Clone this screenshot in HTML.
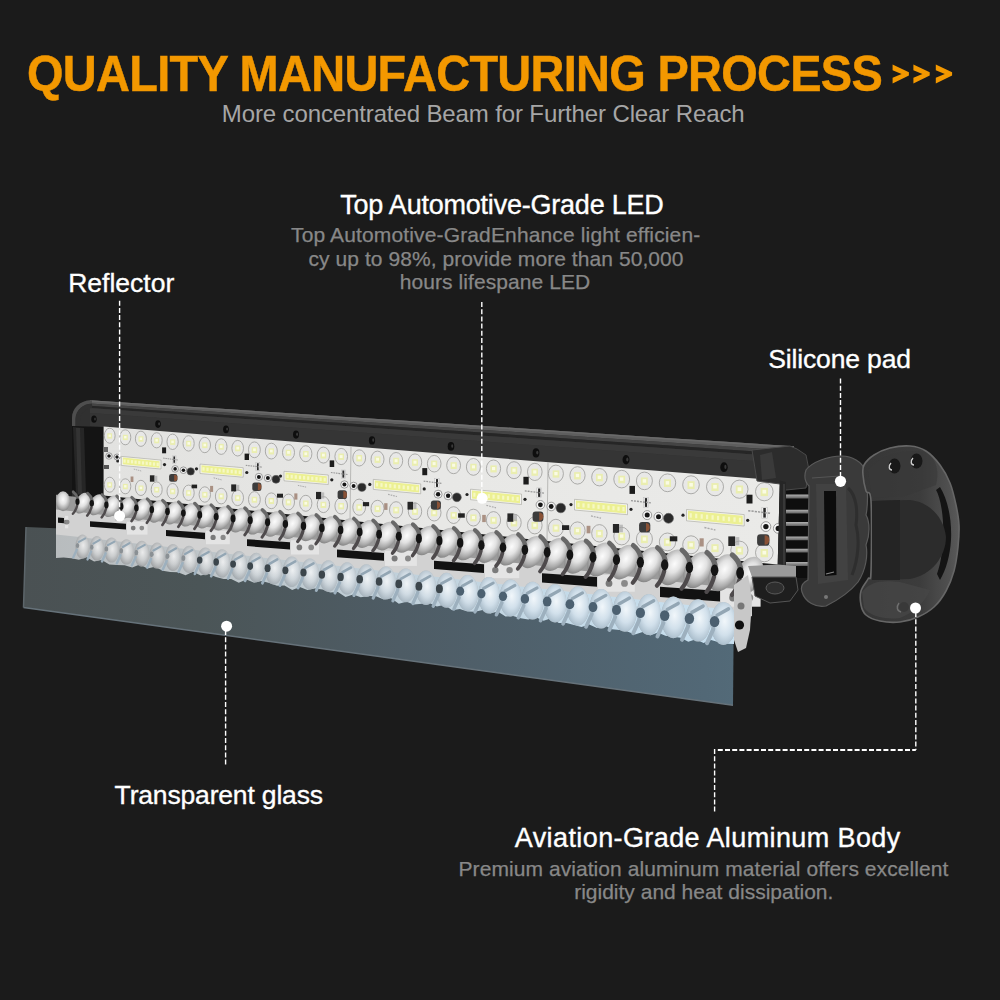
<!DOCTYPE html>
<html><head><meta charset="utf-8">
<style>
html,body{margin:0;padding:0;background:#1b1b1b;}
body{width:1000px;height:1000px;overflow:hidden;}
svg{display:block;}
text{font-family:"Liberation Sans",sans-serif;}
#texts text[fill="#ffffff"]{stroke:#ffffff;stroke-width:0.35px;}
#texts text[fill="#888"]{stroke:#888;stroke-width:0.25px;}
#t_title{stroke:#f39800;stroke-width:0.5px;}
</style></head>
<body>
<svg width="1000" height="1000" viewBox="0 0 1000 1000">
<rect width="1000" height="1000" fill="#1b1b1b"/>
<g id="product">
<defs>
<linearGradient id="gGlass" x1="0" y1="0" x2="1" y2="0">
 <stop offset="0" stop-color="#4a5153"/><stop offset="0.25" stop-color="#4b5557"/><stop offset="0.53" stop-color="#4e5c65"/><stop offset="0.96" stop-color="#526876"/><stop offset="1" stop-color="#536a78"/>
</linearGradient>
<linearGradient id="gHouse" x1="0" y1="0" x2="0" y2="1">
 <stop offset="0" stop-color="#5a5a5a"/><stop offset="0.12" stop-color="#4a4a4a"/><stop offset="0.2" stop-color="#2c2c2c"/>
 <stop offset="0.3" stop-color="#3c3c3c"/><stop offset="0.38" stop-color="#2a2a2a"/><stop offset="1" stop-color="#242424"/>
</linearGradient>
<linearGradient id="gPCB" x1="0" y1="0" x2="1" y2="0">
 <stop offset="0" stop-color="#e2e2e0"/><stop offset="0.5" stop-color="#e8e8e6"/><stop offset="1" stop-color="#eaeae8"/>
</linearGradient>
<linearGradient id="gBlue" x1="0" y1="0" x2="1" y2="0">
 <stop offset="0" stop-color="#b8bcbe"/><stop offset="0.25" stop-color="#bec6ca"/><stop offset="0.5" stop-color="#c0d0da"/><stop offset="0.75" stop-color="#c4dae8"/><stop offset="1" stop-color="#c8e0f0"/>
</linearGradient>
<radialGradient id="gLens" cx="0.5" cy="0.4" r="0.62">
 <stop offset="0" stop-color="#fcfcfc"/><stop offset="0.4" stop-color="#e2e2e2"/><stop offset="0.75" stop-color="#acacac"/><stop offset="1" stop-color="#7e7e7e"/>
</radialGradient>
<radialGradient id="gLensG" cx="0.55" cy="0.45" r="0.6">
 <stop offset="0" stop-color="#f0f0f0"/><stop offset="0.5" stop-color="#cdcfd0"/><stop offset="1" stop-color="#97999b"/>
</radialGradient>
<radialGradient id="gLensB" cx="0.55" cy="0.45" r="0.6">
 <stop offset="0" stop-color="#f2f8fc"/><stop offset="0.55" stop-color="#d2e2ee"/><stop offset="1" stop-color="#a6bccc"/>
</radialGradient>
<linearGradient id="gCapH" x1="0" y1="0" x2="1" y2="0">
 <stop offset="0" stop-color="#363636"/><stop offset="0.6" stop-color="#3c3c3c"/><stop offset="0.9" stop-color="#505050"/><stop offset="1" stop-color="#5a5a5a"/>
</linearGradient>
<linearGradient id="gCap" x1="0" y1="0" x2="1" y2="1">
 <stop offset="0" stop-color="#4a4a4a"/><stop offset="1" stop-color="#3a3a3a"/>
</linearGradient>
<linearGradient id="gFin" x1="0" y1="0" x2="0" y2="1">
 <stop offset="0" stop-color="#b0b0b0"/><stop offset="1" stop-color="#606060"/>
</linearGradient>
</defs>
<polygon points="26.0,527.0 120.0,531.0 734.0,590.0 733.0,705.2 23.5,607.5" fill="url(#gGlass)"/>
<polyline points="23.5,607.5 733.0,705.2" stroke="#66727a" stroke-width="1.6" fill="none"/>
<polyline points="26.0,527.0 23.5,607.5" stroke="#5c656a" stroke-width="1.5" fill="none"/>
<path d="M72,497 L72,418 C72,408 80,401 90,400.2 L100,400.9 L103.6,430 L103.6,497 Z" fill="#303030"/>
<polygon points="90.0,400.2 154.0,404.4 218.0,408.6 282.0,412.8 346.0,417.0 410.0,421.1 474.0,425.3 538.0,429.5 602.0,433.7 666.0,437.9 730.0,442.1 794.0,446.3 794.0,482.5 730.0,477.3 666.0,472.2 602.0,467.1 538.0,461.9 474.0,456.8 410.0,451.7 346.0,446.5 282.0,441.4 218.0,436.3 154.0,431.2 90.0,426.0" fill="#333333" />
<polygon points="90.0,400.2 154.0,404.4 218.0,408.6 282.0,412.8 346.0,417.0 410.0,421.1 474.0,425.3 538.0,429.5 602.0,433.7 666.0,437.9 730.0,442.1 794.0,446.3 794.0,450.9 730.0,446.6 666.0,442.3 602.0,438.0 538.0,433.6 474.0,429.3 410.0,425.0 346.0,420.7 282.0,416.4 218.0,412.1 154.0,407.8 90.0,403.5" fill="#5e5e5e" />
<polygon points="90.0,400.2 154.0,404.4 218.0,408.6 282.0,412.8 346.0,417.0 410.0,421.1 474.0,425.3 538.0,429.5 602.0,433.7 666.0,437.9 730.0,442.1 794.0,446.3 794.0,448.0 730.0,443.8 666.0,439.6 602.0,435.3 538.0,431.1 474.0,426.9 410.0,422.6 346.0,418.4 282.0,414.2 218.0,409.9 154.0,405.7 90.0,401.5" fill="#6a6a6a" />
<polygon points="90.0,403.5 154.0,407.8 218.0,412.1 282.0,416.4 346.0,420.7 410.0,425.0 474.0,429.3 538.0,433.6 602.0,438.0 666.0,442.3 730.0,446.6 794.0,450.9 794.0,454.1 730.0,449.7 666.0,445.3 602.0,440.9 538.0,436.5 474.0,432.1 410.0,427.7 346.0,423.3 282.0,418.9 218.0,414.6 154.0,410.2 90.0,405.8" fill="#444444" />
<polygon points="90.0,405.8 154.0,410.2 218.0,414.6 282.0,418.9 346.0,423.3 410.0,427.7 474.0,432.1 538.0,436.5 602.0,440.9 666.0,445.3 730.0,449.7 794.0,454.1 794.0,457.3 730.0,452.8 666.0,448.3 602.0,443.8 538.0,439.4 474.0,434.9 410.0,430.4 346.0,425.9 282.0,421.5 218.0,417.0 154.0,412.5 90.0,408.1" fill="#262626" />
<polygon points="90.0,408.1 154.0,412.5 218.0,417.0 282.0,421.5 346.0,425.9 410.0,430.4 474.0,434.9 538.0,439.4 602.0,443.8 666.0,448.3 730.0,452.8 794.0,457.3 794.0,464.0 730.0,459.4 666.0,454.7 602.0,450.1 538.0,445.4 474.0,440.8 410.0,436.1 346.0,431.5 282.0,426.8 218.0,422.2 154.0,417.5 90.0,412.9" fill="#3a3a3a" />
<polygon points="90.0,412.9 154.0,417.5 218.0,422.2 282.0,426.8 346.0,431.5 410.0,436.1 474.0,440.8 538.0,445.4 602.0,450.1 666.0,454.7 730.0,459.4 794.0,464.0 794.0,482.5 730.0,477.3 666.0,472.2 602.0,467.1 538.0,461.9 474.0,456.8 410.0,451.7 346.0,446.5 282.0,441.4 218.0,436.3 154.0,431.2 90.0,426.0" fill="#353535" />
<path d="M72,430 L72,418 C72,408 80,401 90,400.2 L92,400.3 L92,403.5 C83,404 76,410 75.5,419 L75.5,430 Z" fill="#4e4e4e"/>
<path d="M75.5,430 L75.5,419 C76,410 83,404 92,403.5 L92,408 C85,408.5 80,413 80,421 L80,430 Z" fill="#303030"/>
<polygon points="72.0,426.0 103.6,427.0 103.6,497.0 76.0,497.0 72.0,490.0" fill="#141414"/>
<polygon points="73.0,427.0 84.0,428.0 86.0,495.0 76.0,495.0" fill="#262626"/>
<polygon points="76.0,428.0 80.0,428.0 82.0,494.0 78.0,494.0" fill="#333"/>
<ellipse cx="94.0" cy="419.2" rx="2.7" ry="3.6" fill="#0e0e0e"/>
<ellipse cx="95.0" cy="418.9" rx="0.8" ry="1.5" fill="#3a3a3a"/>
<ellipse cx="158.0" cy="424.1" rx="2.8" ry="3.8" fill="#0e0e0e"/>
<ellipse cx="159.1" cy="423.8" rx="0.9" ry="1.6" fill="#3a3a3a"/>
<ellipse cx="226.0" cy="429.3" rx="2.9" ry="3.9" fill="#0e0e0e"/>
<ellipse cx="227.1" cy="429.0" rx="0.9" ry="1.6" fill="#3a3a3a"/>
<ellipse cx="296.0" cy="434.6" rx="3.0" ry="4.1" fill="#0e0e0e"/>
<ellipse cx="297.1" cy="434.3" rx="0.9" ry="1.7" fill="#3a3a3a"/>
<ellipse cx="372.0" cy="440.4" rx="3.1" ry="4.2" fill="#0e0e0e"/>
<ellipse cx="373.2" cy="440.1" rx="1.0" ry="1.8" fill="#3a3a3a"/>
<ellipse cx="451.0" cy="446.4" rx="3.3" ry="4.4" fill="#0e0e0e"/>
<ellipse cx="452.2" cy="446.1" rx="1.0" ry="1.8" fill="#3a3a3a"/>
<ellipse cx="536.0" cy="452.9" rx="3.4" ry="4.6" fill="#0e0e0e"/>
<ellipse cx="537.3" cy="452.6" rx="1.1" ry="1.9" fill="#3a3a3a"/>
<ellipse cx="626.0" cy="459.7" rx="3.5" ry="4.7" fill="#0e0e0e"/>
<ellipse cx="627.3" cy="459.4" rx="1.1" ry="2.0" fill="#3a3a3a"/>
<ellipse cx="724.0" cy="467.2" rx="3.7" ry="4.9" fill="#0e0e0e"/>
<ellipse cx="725.4" cy="466.9" rx="1.1" ry="2.1" fill="#3a3a3a"/>
<polygon points="103.6,426.6 779.8,480.6 777.7,564.6 103.6,495.4" fill="url(#gPCB)"/>
<line x1="351.0" y1="446.4" x2="350.0" y2="520.8" stroke="#b8b8b6" stroke-width="1"/>
<line x1="548.0" y1="462.1" x2="547.0" y2="541.0" stroke="#b8b8b6" stroke-width="1"/>
<ellipse cx="109.7" cy="435.7" rx="5.4" ry="7.5" fill="#e8e8e7" stroke="#9a9a98" stroke-width="0.8"/>
<rect x="107.3" y="433.3" width="4.8" height="5.3" fill="#eaeeb0"/>
<rect x="108.5" y="434.5" width="2.4" height="2.4" fill="#fafbe4"/>
<ellipse cx="109.7" cy="484.7" rx="5.4" ry="7.5" fill="#e8e8e7" stroke="#9a9a98" stroke-width="0.8"/>
<rect x="107.3" y="482.3" width="4.8" height="5.3" fill="#eaeeb0"/>
<rect x="108.5" y="483.5" width="2.4" height="2.4" fill="#fafbe4"/>
<ellipse cx="125.3" cy="437.3" rx="5.5" ry="7.5" fill="#e8e8e7" stroke="#9a9a98" stroke-width="0.8"/>
<rect x="122.9" y="434.8" width="4.9" height="5.3" fill="#eaeeb0"/>
<rect x="124.1" y="436.0" width="2.4" height="2.4" fill="#fafbe4"/>
<ellipse cx="125.3" cy="486.3" rx="5.5" ry="7.5" fill="#e8e8e7" stroke="#9a9a98" stroke-width="0.8"/>
<rect x="122.9" y="483.9" width="4.9" height="5.3" fill="#eaeeb0"/>
<rect x="124.1" y="485.1" width="2.4" height="2.4" fill="#fafbe4"/>
<ellipse cx="140.9" cy="438.8" rx="5.5" ry="7.6" fill="#e8e8e7" stroke="#9a9a98" stroke-width="0.8"/>
<rect x="138.5" y="436.3" width="4.9" height="5.4" fill="#eaeeb0"/>
<rect x="139.7" y="437.5" width="2.5" height="2.5" fill="#fafbe4"/>
<ellipse cx="140.9" cy="487.9" rx="5.5" ry="7.6" fill="#e8e8e7" stroke="#9a9a98" stroke-width="0.8"/>
<rect x="138.5" y="485.5" width="4.9" height="5.4" fill="#eaeeb0"/>
<rect x="139.7" y="486.7" width="2.5" height="2.5" fill="#fafbe4"/>
<ellipse cx="156.7" cy="440.3" rx="5.5" ry="7.6" fill="#e8e8e7" stroke="#9a9a98" stroke-width="0.8"/>
<rect x="154.2" y="437.8" width="5.0" height="5.5" fill="#eaeeb0"/>
<rect x="155.4" y="439.1" width="2.5" height="2.5" fill="#fafbe4"/>
<ellipse cx="156.7" cy="489.5" rx="5.5" ry="7.6" fill="#e8e8e7" stroke="#9a9a98" stroke-width="0.8"/>
<rect x="154.2" y="487.0" width="5.0" height="5.5" fill="#eaeeb0"/>
<rect x="155.4" y="488.3" width="2.5" height="2.5" fill="#fafbe4"/>
<ellipse cx="172.6" cy="441.8" rx="5.6" ry="7.7" fill="#e8e8e7" stroke="#9a9a98" stroke-width="0.8"/>
<rect x="170.1" y="439.3" width="5.1" height="5.6" fill="#eaeeb0"/>
<rect x="171.3" y="440.6" width="2.5" height="2.5" fill="#fafbe4"/>
<ellipse cx="172.6" cy="491.2" rx="5.6" ry="7.7" fill="#e8e8e7" stroke="#9a9a98" stroke-width="0.8"/>
<rect x="170.1" y="488.6" width="5.1" height="5.6" fill="#eaeeb0"/>
<rect x="171.3" y="489.9" width="2.5" height="2.5" fill="#fafbe4"/>
<ellipse cx="188.6" cy="443.4" rx="5.6" ry="7.7" fill="#e8e8e7" stroke="#9a9a98" stroke-width="0.8"/>
<rect x="186.1" y="440.8" width="5.1" height="5.6" fill="#eaeeb0"/>
<rect x="187.4" y="442.1" width="2.6" height="2.6" fill="#fafbe4"/>
<ellipse cx="188.6" cy="492.8" rx="5.6" ry="7.7" fill="#e8e8e7" stroke="#9a9a98" stroke-width="0.8"/>
<rect x="186.1" y="490.2" width="5.1" height="5.6" fill="#eaeeb0"/>
<rect x="187.4" y="491.5" width="2.6" height="2.6" fill="#fafbe4"/>
<ellipse cx="204.8" cy="445.0" rx="5.7" ry="7.7" fill="#e8e8e7" stroke="#9a9a98" stroke-width="0.8"/>
<rect x="202.2" y="442.4" width="5.2" height="5.7" fill="#eaeeb0"/>
<rect x="203.5" y="443.7" width="2.6" height="2.6" fill="#fafbe4"/>
<ellipse cx="204.8" cy="494.5" rx="5.7" ry="7.7" fill="#e8e8e7" stroke="#9a9a98" stroke-width="0.8"/>
<rect x="202.2" y="491.9" width="5.2" height="5.7" fill="#eaeeb0"/>
<rect x="203.5" y="493.2" width="2.6" height="2.6" fill="#fafbe4"/>
<ellipse cx="221.2" cy="446.6" rx="5.8" ry="7.8" fill="#e8e8e7" stroke="#9a9a98" stroke-width="0.8"/>
<rect x="218.6" y="443.9" width="5.2" height="5.8" fill="#eaeeb0"/>
<rect x="219.9" y="445.3" width="2.6" height="2.6" fill="#fafbe4"/>
<ellipse cx="221.2" cy="496.1" rx="5.8" ry="7.8" fill="#e8e8e7" stroke="#9a9a98" stroke-width="0.8"/>
<rect x="218.6" y="493.5" width="5.2" height="5.8" fill="#eaeeb0"/>
<rect x="219.9" y="494.8" width="2.6" height="2.6" fill="#fafbe4"/>
<ellipse cx="237.7" cy="448.2" rx="5.8" ry="7.8" fill="#e8e8e7" stroke="#9a9a98" stroke-width="0.8"/>
<rect x="235.1" y="445.5" width="5.3" height="5.8" fill="#eaeeb0"/>
<rect x="236.4" y="446.8" width="2.7" height="2.7" fill="#fafbe4"/>
<ellipse cx="237.7" cy="497.8" rx="5.8" ry="7.8" fill="#e8e8e7" stroke="#9a9a98" stroke-width="0.8"/>
<rect x="235.1" y="495.2" width="5.3" height="5.8" fill="#eaeeb0"/>
<rect x="236.4" y="496.5" width="2.7" height="2.7" fill="#fafbe4"/>
<ellipse cx="254.4" cy="449.8" rx="5.9" ry="7.9" fill="#e8e8e7" stroke="#9a9a98" stroke-width="0.8"/>
<rect x="251.7" y="447.1" width="5.4" height="5.9" fill="#eaeeb0"/>
<rect x="253.1" y="448.4" width="2.7" height="2.7" fill="#fafbe4"/>
<ellipse cx="254.4" cy="499.5" rx="5.9" ry="7.9" fill="#e8e8e7" stroke="#9a9a98" stroke-width="0.8"/>
<rect x="251.7" y="496.8" width="5.4" height="5.9" fill="#eaeeb0"/>
<rect x="253.1" y="498.2" width="2.7" height="2.7" fill="#fafbe4"/>
<ellipse cx="271.3" cy="451.1" rx="6.0" ry="7.9" fill="#e8e8e7" stroke="#9a9a98" stroke-width="0.8"/>
<rect x="268.6" y="448.4" width="5.4" height="6.0" fill="#eaeeb0"/>
<rect x="270.0" y="449.7" width="2.7" height="2.7" fill="#fafbe4"/>
<ellipse cx="271.3" cy="500.8" rx="6.0" ry="7.9" fill="#e8e8e7" stroke="#9a9a98" stroke-width="0.8"/>
<rect x="268.6" y="498.0" width="5.4" height="6.0" fill="#eaeeb0"/>
<rect x="270.0" y="499.4" width="2.7" height="2.7" fill="#fafbe4"/>
<ellipse cx="288.5" cy="452.4" rx="6.0" ry="7.9" fill="#e8e8e7" stroke="#9a9a98" stroke-width="0.8"/>
<rect x="285.7" y="449.7" width="5.5" height="6.1" fill="#eaeeb0"/>
<rect x="287.1" y="451.0" width="2.8" height="2.8" fill="#fafbe4"/>
<ellipse cx="288.5" cy="502.0" rx="6.0" ry="7.9" fill="#e8e8e7" stroke="#9a9a98" stroke-width="0.8"/>
<rect x="285.7" y="499.3" width="5.5" height="6.1" fill="#eaeeb0"/>
<rect x="287.1" y="500.6" width="2.8" height="2.8" fill="#fafbe4"/>
<ellipse cx="305.8" cy="453.7" rx="6.1" ry="8.0" fill="#e8e8e7" stroke="#9a9a98" stroke-width="0.8"/>
<rect x="303.0" y="451.0" width="5.6" height="6.1" fill="#eaeeb0"/>
<rect x="304.4" y="452.4" width="2.8" height="2.8" fill="#fafbe4"/>
<ellipse cx="305.8" cy="503.3" rx="6.1" ry="8.0" fill="#e8e8e7" stroke="#9a9a98" stroke-width="0.8"/>
<rect x="303.0" y="500.5" width="5.6" height="6.1" fill="#eaeeb0"/>
<rect x="304.4" y="501.9" width="2.8" height="2.8" fill="#fafbe4"/>
<ellipse cx="323.4" cy="455.1" rx="6.2" ry="8.0" fill="#e8e8e7" stroke="#9a9a98" stroke-width="0.8"/>
<rect x="320.5" y="452.3" width="5.7" height="6.2" fill="#eaeeb0"/>
<rect x="322.0" y="453.7" width="2.8" height="2.8" fill="#fafbe4"/>
<ellipse cx="323.4" cy="504.6" rx="6.2" ry="8.0" fill="#e8e8e7" stroke="#9a9a98" stroke-width="0.8"/>
<rect x="320.5" y="501.8" width="5.7" height="6.2" fill="#eaeeb0"/>
<rect x="322.0" y="503.2" width="2.8" height="2.8" fill="#fafbe4"/>
<ellipse cx="341.2" cy="456.5" rx="6.3" ry="8.1" fill="#e8e8e7" stroke="#9a9a98" stroke-width="0.8"/>
<rect x="338.3" y="453.6" width="5.7" height="6.3" fill="#eaeeb0"/>
<rect x="339.7" y="455.1" width="2.9" height="2.9" fill="#fafbe4"/>
<ellipse cx="341.2" cy="505.9" rx="6.3" ry="8.1" fill="#e8e8e7" stroke="#9a9a98" stroke-width="0.8"/>
<rect x="338.3" y="503.0" width="5.7" height="6.3" fill="#eaeeb0"/>
<rect x="339.7" y="504.5" width="2.9" height="2.9" fill="#fafbe4"/>
<ellipse cx="359.2" cy="457.9" rx="6.4" ry="8.1" fill="#e8e8e7" stroke="#9a9a98" stroke-width="0.8"/>
<rect x="356.3" y="455.0" width="5.8" height="6.4" fill="#eaeeb0"/>
<rect x="357.8" y="456.4" width="2.9" height="2.9" fill="#fafbe4"/>
<ellipse cx="359.2" cy="507.2" rx="6.4" ry="8.1" fill="#e8e8e7" stroke="#9a9a98" stroke-width="0.8"/>
<rect x="356.3" y="504.3" width="5.8" height="6.4" fill="#eaeeb0"/>
<rect x="357.8" y="505.8" width="2.9" height="2.9" fill="#fafbe4"/>
<ellipse cx="377.5" cy="459.3" rx="6.5" ry="8.2" fill="#e8e8e7" stroke="#9a9a98" stroke-width="0.8"/>
<rect x="374.6" y="456.4" width="5.9" height="6.5" fill="#eaeeb0"/>
<rect x="376.1" y="457.8" width="2.9" height="2.9" fill="#fafbe4"/>
<ellipse cx="377.5" cy="508.5" rx="6.5" ry="8.2" fill="#e8e8e7" stroke="#9a9a98" stroke-width="0.8"/>
<rect x="374.6" y="505.6" width="5.9" height="6.5" fill="#eaeeb0"/>
<rect x="376.1" y="507.1" width="2.9" height="2.9" fill="#fafbe4"/>
<ellipse cx="396.1" cy="460.7" rx="6.6" ry="8.2" fill="#e8e8e7" stroke="#9a9a98" stroke-width="0.8"/>
<rect x="393.2" y="457.8" width="5.9" height="6.5" fill="#eaeeb0"/>
<rect x="394.6" y="459.2" width="3.0" height="3.0" fill="#fafbe4"/>
<ellipse cx="396.1" cy="509.9" rx="6.6" ry="8.2" fill="#e8e8e7" stroke="#9a9a98" stroke-width="0.8"/>
<rect x="393.2" y="506.9" width="5.9" height="6.5" fill="#eaeeb0"/>
<rect x="394.6" y="508.4" width="3.0" height="3.0" fill="#fafbe4"/>
<ellipse cx="415.0" cy="462.2" rx="6.7" ry="8.3" fill="#e8e8e7" stroke="#9a9a98" stroke-width="0.8"/>
<rect x="412.0" y="459.2" width="6.0" height="6.6" fill="#eaeeb0"/>
<rect x="413.5" y="460.7" width="3.0" height="3.0" fill="#fafbe4"/>
<ellipse cx="415.0" cy="511.3" rx="6.7" ry="8.3" fill="#e8e8e7" stroke="#9a9a98" stroke-width="0.8"/>
<rect x="412.0" y="508.3" width="6.0" height="6.6" fill="#eaeeb0"/>
<rect x="413.5" y="509.8" width="3.0" height="3.0" fill="#fafbe4"/>
<ellipse cx="434.2" cy="463.7" rx="6.8" ry="8.3" fill="#e8e8e7" stroke="#9a9a98" stroke-width="0.8"/>
<rect x="431.1" y="460.6" width="6.1" height="6.7" fill="#eaeeb0"/>
<rect x="432.6" y="462.1" width="3.0" height="3.0" fill="#fafbe4"/>
<ellipse cx="434.2" cy="512.7" rx="6.8" ry="8.3" fill="#e8e8e7" stroke="#9a9a98" stroke-width="0.8"/>
<rect x="431.1" y="509.6" width="6.1" height="6.7" fill="#eaeeb0"/>
<rect x="432.6" y="511.2" width="3.0" height="3.0" fill="#fafbe4"/>
<ellipse cx="453.6" cy="465.3" rx="6.9" ry="8.4" fill="#e8e8e7" stroke="#9a9a98" stroke-width="0.8"/>
<rect x="450.6" y="462.2" width="6.2" height="6.8" fill="#eaeeb0"/>
<rect x="452.1" y="463.7" width="3.1" height="3.1" fill="#fafbe4"/>
<ellipse cx="453.6" cy="515.1" rx="6.9" ry="8.4" fill="#e8e8e7" stroke="#9a9a98" stroke-width="0.8"/>
<rect x="450.6" y="512.0" width="6.2" height="6.8" fill="#eaeeb0"/>
<rect x="452.1" y="513.5" width="3.1" height="3.1" fill="#fafbe4"/>
<ellipse cx="473.4" cy="466.9" rx="7.0" ry="8.4" fill="#e8e8e7" stroke="#9a9a98" stroke-width="0.8"/>
<rect x="470.3" y="463.8" width="6.3" height="6.9" fill="#eaeeb0"/>
<rect x="471.9" y="465.3" width="3.1" height="3.1" fill="#fafbe4"/>
<ellipse cx="473.4" cy="517.6" rx="7.0" ry="8.4" fill="#e8e8e7" stroke="#9a9a98" stroke-width="0.8"/>
<rect x="470.3" y="514.4" width="6.3" height="6.9" fill="#eaeeb0"/>
<rect x="471.9" y="516.0" width="3.1" height="3.1" fill="#fafbe4"/>
<ellipse cx="493.5" cy="468.5" rx="7.1" ry="8.5" fill="#e8e8e7" stroke="#9a9a98" stroke-width="0.8"/>
<rect x="490.4" y="465.4" width="6.3" height="7.0" fill="#eaeeb0"/>
<rect x="492.0" y="467.0" width="3.2" height="3.2" fill="#fafbe4"/>
<ellipse cx="493.5" cy="520.1" rx="7.1" ry="8.5" fill="#e8e8e7" stroke="#9a9a98" stroke-width="0.8"/>
<rect x="490.4" y="516.9" width="6.3" height="7.0" fill="#eaeeb0"/>
<rect x="492.0" y="518.5" width="3.2" height="3.2" fill="#fafbe4"/>
<ellipse cx="514.0" cy="470.2" rx="7.2" ry="8.5" fill="#e8e8e7" stroke="#9a9a98" stroke-width="0.8"/>
<rect x="510.8" y="467.0" width="6.4" height="7.1" fill="#eaeeb0"/>
<rect x="512.4" y="468.6" width="3.2" height="3.2" fill="#fafbe4"/>
<ellipse cx="514.0" cy="522.6" rx="7.2" ry="8.5" fill="#e8e8e7" stroke="#9a9a98" stroke-width="0.8"/>
<rect x="510.8" y="519.4" width="6.4" height="7.1" fill="#eaeeb0"/>
<rect x="512.4" y="521.0" width="3.2" height="3.2" fill="#fafbe4"/>
<ellipse cx="534.8" cy="471.9" rx="7.3" ry="8.6" fill="#e8e8e7" stroke="#9a9a98" stroke-width="0.8"/>
<rect x="531.5" y="468.7" width="6.5" height="7.1" fill="#eaeeb0"/>
<rect x="533.2" y="470.3" width="3.2" height="3.2" fill="#fafbe4"/>
<ellipse cx="534.8" cy="525.3" rx="7.3" ry="8.6" fill="#e8e8e7" stroke="#9a9a98" stroke-width="0.8"/>
<rect x="531.5" y="522.0" width="6.5" height="7.1" fill="#eaeeb0"/>
<rect x="533.2" y="523.6" width="3.2" height="3.2" fill="#fafbe4"/>
<ellipse cx="555.9" cy="473.7" rx="7.5" ry="8.6" fill="#e8e8e7" stroke="#9a9a98" stroke-width="0.8"/>
<rect x="552.7" y="470.4" width="6.6" height="7.2" fill="#eaeeb0"/>
<rect x="554.3" y="472.0" width="3.3" height="3.3" fill="#fafbe4"/>
<ellipse cx="555.9" cy="527.9" rx="7.5" ry="8.6" fill="#e8e8e7" stroke="#9a9a98" stroke-width="0.8"/>
<rect x="552.7" y="524.6" width="6.6" height="7.2" fill="#eaeeb0"/>
<rect x="554.3" y="526.3" width="3.3" height="3.3" fill="#fafbe4"/>
<ellipse cx="577.5" cy="475.4" rx="7.6" ry="8.7" fill="#e8e8e7" stroke="#9a9a98" stroke-width="0.8"/>
<rect x="574.1" y="472.1" width="6.7" height="7.3" fill="#eaeeb0"/>
<rect x="575.8" y="473.8" width="3.3" height="3.3" fill="#fafbe4"/>
<ellipse cx="577.5" cy="530.6" rx="7.6" ry="8.7" fill="#e8e8e7" stroke="#9a9a98" stroke-width="0.8"/>
<rect x="574.1" y="527.3" width="6.7" height="7.3" fill="#eaeeb0"/>
<rect x="575.8" y="528.9" width="3.3" height="3.3" fill="#fafbe4"/>
<ellipse cx="599.4" cy="477.2" rx="7.7" ry="8.7" fill="#e8e8e7" stroke="#9a9a98" stroke-width="0.8"/>
<rect x="596.0" y="473.9" width="6.8" height="7.4" fill="#eaeeb0"/>
<rect x="597.7" y="475.6" width="3.4" height="3.4" fill="#fafbe4"/>
<ellipse cx="599.4" cy="533.3" rx="7.7" ry="8.7" fill="#e8e8e7" stroke="#9a9a98" stroke-width="0.8"/>
<rect x="596.0" y="530.0" width="6.8" height="7.4" fill="#eaeeb0"/>
<rect x="597.7" y="531.7" width="3.4" height="3.4" fill="#fafbe4"/>
<ellipse cx="621.7" cy="479.1" rx="7.9" ry="8.8" fill="#e8e8e7" stroke="#9a9a98" stroke-width="0.8"/>
<rect x="618.3" y="475.7" width="6.8" height="7.5" fill="#eaeeb0"/>
<rect x="620.0" y="477.4" width="3.4" height="3.4" fill="#fafbe4"/>
<ellipse cx="621.7" cy="536.1" rx="7.9" ry="8.8" fill="#e8e8e7" stroke="#9a9a98" stroke-width="0.8"/>
<rect x="618.3" y="532.7" width="6.8" height="7.5" fill="#eaeeb0"/>
<rect x="620.0" y="534.4" width="3.4" height="3.4" fill="#fafbe4"/>
<ellipse cx="644.4" cy="480.9" rx="8.0" ry="8.8" fill="#e8e8e7" stroke="#9a9a98" stroke-width="0.8"/>
<rect x="640.9" y="477.5" width="6.9" height="7.6" fill="#eaeeb0"/>
<rect x="642.7" y="479.2" width="3.5" height="3.5" fill="#fafbe4"/>
<ellipse cx="644.4" cy="539.0" rx="8.0" ry="8.8" fill="#e8e8e7" stroke="#9a9a98" stroke-width="0.8"/>
<rect x="640.9" y="535.5" width="6.9" height="7.6" fill="#eaeeb0"/>
<rect x="642.7" y="537.3" width="3.5" height="3.5" fill="#fafbe4"/>
<ellipse cx="667.5" cy="482.8" rx="8.2" ry="8.9" fill="#e8e8e7" stroke="#9a9a98" stroke-width="0.8"/>
<rect x="664.0" y="479.3" width="7.0" height="7.7" fill="#eaeeb0"/>
<rect x="665.7" y="481.1" width="3.5" height="3.5" fill="#fafbe4"/>
<ellipse cx="667.5" cy="541.9" rx="8.2" ry="8.9" fill="#e8e8e7" stroke="#9a9a98" stroke-width="0.8"/>
<rect x="664.0" y="538.4" width="7.0" height="7.7" fill="#eaeeb0"/>
<rect x="665.7" y="540.1" width="3.5" height="3.5" fill="#fafbe4"/>
<ellipse cx="691.0" cy="484.8" rx="8.3" ry="9.0" fill="#e8e8e7" stroke="#9a9a98" stroke-width="0.8"/>
<rect x="687.5" y="481.2" width="7.1" height="7.8" fill="#eaeeb0"/>
<rect x="689.3" y="483.0" width="3.6" height="3.6" fill="#fafbe4"/>
<ellipse cx="691.0" cy="544.8" rx="8.3" ry="9.0" fill="#e8e8e7" stroke="#9a9a98" stroke-width="0.8"/>
<rect x="687.5" y="541.3" width="7.1" height="7.8" fill="#eaeeb0"/>
<rect x="689.3" y="543.1" width="3.6" height="3.6" fill="#fafbe4"/>
<ellipse cx="715.0" cy="486.8" rx="8.5" ry="9.0" fill="#e8e8e7" stroke="#9a9a98" stroke-width="0.8"/>
<rect x="711.4" y="483.1" width="7.2" height="7.9" fill="#eaeeb0"/>
<rect x="713.2" y="484.9" width="3.6" height="3.6" fill="#fafbe4"/>
<ellipse cx="715.0" cy="547.8" rx="8.5" ry="9.0" fill="#e8e8e7" stroke="#9a9a98" stroke-width="0.8"/>
<rect x="711.4" y="544.2" width="7.2" height="7.9" fill="#eaeeb0"/>
<rect x="713.2" y="546.0" width="3.6" height="3.6" fill="#fafbe4"/>
<ellipse cx="739.4" cy="489.2" rx="8.6" ry="9.1" fill="#e8e8e7" stroke="#9a9a98" stroke-width="0.8"/>
<rect x="735.8" y="485.5" width="7.3" height="8.0" fill="#eaeeb0"/>
<rect x="737.6" y="487.3" width="3.7" height="3.7" fill="#fafbe4"/>
<ellipse cx="739.4" cy="550.2" rx="8.6" ry="9.1" fill="#e8e8e7" stroke="#9a9a98" stroke-width="0.8"/>
<rect x="735.8" y="546.6" width="7.3" height="8.0" fill="#eaeeb0"/>
<rect x="737.6" y="548.4" width="3.7" height="3.7" fill="#fafbe4"/>
<ellipse cx="764.3" cy="491.7" rx="8.8" ry="9.1" fill="#e8e8e7" stroke="#9a9a98" stroke-width="0.8"/>
<rect x="760.6" y="487.9" width="7.4" height="8.2" fill="#eaeeb0"/>
<rect x="762.5" y="489.8" width="3.7" height="3.7" fill="#fafbe4"/>
<ellipse cx="764.3" cy="552.7" rx="8.8" ry="9.1" fill="#e8e8e7" stroke="#9a9a98" stroke-width="0.8"/>
<rect x="760.6" y="549.0" width="7.4" height="8.2" fill="#eaeeb0"/>
<rect x="762.5" y="550.8" width="3.7" height="3.7" fill="#fafbe4"/>
<polygon points="121.3,456.4 161.0,460.1 161.0,469.0 121.3,465.4" fill="#f4f4f0" stroke="#a4a49c" stroke-width="0.6"/>
<polygon points="122.8,457.6 159.5,461.3 159.5,467.8 122.8,464.2" fill="#ecf092"/>
<rect x="123.5" y="459.4" width="2.2" height="3.3" fill="#f6f8c4"/>
<rect x="127.2" y="459.8" width="2.2" height="3.3" fill="#f6f8c4"/>
<rect x="130.9" y="460.1" width="2.2" height="3.3" fill="#f6f8c4"/>
<rect x="134.5" y="460.5" width="2.2" height="3.3" fill="#f6f8c4"/>
<rect x="138.2" y="460.9" width="2.2" height="3.3" fill="#f6f8c4"/>
<rect x="141.9" y="461.3" width="2.2" height="3.3" fill="#f6f8c4"/>
<rect x="145.6" y="461.6" width="2.2" height="3.3" fill="#f6f8c4"/>
<rect x="149.2" y="462.0" width="2.2" height="3.3" fill="#f6f8c4"/>
<rect x="152.9" y="462.4" width="2.2" height="3.3" fill="#f6f8c4"/>
<rect x="156.6" y="462.7" width="2.2" height="3.3" fill="#f6f8c4"/>
<circle cx="117.8" cy="460.9" r="1.6" fill="#222"/>
<circle cx="164.5" cy="464.6" r="1.6" fill="#222"/>
<polygon points="200.0,464.1 243.2,467.7 243.2,477.2 200.0,473.5" fill="#f4f4f0" stroke="#a4a49c" stroke-width="0.6"/>
<polygon points="201.5,465.3 241.8,468.9 241.8,476.0 201.5,472.3" fill="#ecf092"/>
<rect x="202.4" y="467.2" width="2.2" height="3.5" fill="#f6f8c4"/>
<rect x="206.4" y="467.6" width="2.2" height="3.5" fill="#f6f8c4"/>
<rect x="210.5" y="467.9" width="2.2" height="3.5" fill="#f6f8c4"/>
<rect x="214.5" y="468.3" width="2.2" height="3.5" fill="#f6f8c4"/>
<rect x="218.5" y="468.7" width="2.2" height="3.5" fill="#f6f8c4"/>
<rect x="222.5" y="469.0" width="2.2" height="3.5" fill="#f6f8c4"/>
<rect x="226.6" y="469.4" width="2.2" height="3.5" fill="#f6f8c4"/>
<rect x="230.6" y="469.8" width="2.2" height="3.5" fill="#f6f8c4"/>
<rect x="234.6" y="470.2" width="2.2" height="3.5" fill="#f6f8c4"/>
<rect x="238.6" y="470.5" width="2.2" height="3.5" fill="#f6f8c4"/>
<circle cx="196.5" cy="468.8" r="1.6" fill="#222"/>
<circle cx="246.8" cy="472.5" r="1.6" fill="#222"/>
<polygon points="284.0,471.3 328.3,475.0 328.3,484.5 284.0,480.8" fill="#f4f4f0" stroke="#a4a49c" stroke-width="0.6"/>
<polygon points="285.5,472.5 326.8,476.2 326.8,483.3 285.5,479.6" fill="#ecf092"/>
<rect x="286.5" y="474.5" width="2.2" height="3.6" fill="#f6f8c4"/>
<rect x="290.6" y="474.8" width="2.2" height="3.6" fill="#f6f8c4"/>
<rect x="294.7" y="475.2" width="2.2" height="3.6" fill="#f6f8c4"/>
<rect x="298.9" y="475.6" width="2.2" height="3.6" fill="#f6f8c4"/>
<rect x="303.0" y="475.9" width="2.2" height="3.6" fill="#f6f8c4"/>
<rect x="307.1" y="476.3" width="2.2" height="3.6" fill="#f6f8c4"/>
<rect x="311.2" y="476.7" width="2.2" height="3.6" fill="#f6f8c4"/>
<rect x="315.4" y="477.0" width="2.2" height="3.6" fill="#f6f8c4"/>
<rect x="319.5" y="477.4" width="2.2" height="3.6" fill="#f6f8c4"/>
<rect x="323.6" y="477.8" width="2.2" height="3.6" fill="#f6f8c4"/>
<circle cx="280.5" cy="476.1" r="1.6" fill="#222"/>
<circle cx="331.8" cy="479.8" r="1.6" fill="#222"/>
<polygon points="373.3,479.4 420.7,483.9 420.7,493.8 373.3,489.4" fill="#f4f4f0" stroke="#a4a49c" stroke-width="0.6"/>
<polygon points="374.8,480.6 419.2,485.1 419.2,492.6 374.8,488.2" fill="#ecf092"/>
<rect x="375.9" y="482.7" width="2.2" height="3.8" fill="#f6f8c4"/>
<rect x="380.4" y="483.1" width="2.2" height="3.8" fill="#f6f8c4"/>
<rect x="384.8" y="483.6" width="2.2" height="3.8" fill="#f6f8c4"/>
<rect x="389.2" y="484.0" width="2.2" height="3.8" fill="#f6f8c4"/>
<rect x="393.7" y="484.5" width="2.2" height="3.8" fill="#f6f8c4"/>
<rect x="398.1" y="484.9" width="2.2" height="3.8" fill="#f6f8c4"/>
<rect x="402.6" y="485.4" width="2.2" height="3.8" fill="#f6f8c4"/>
<rect x="407.0" y="485.8" width="2.2" height="3.8" fill="#f6f8c4"/>
<rect x="411.4" y="486.3" width="2.2" height="3.8" fill="#f6f8c4"/>
<rect x="415.9" y="486.7" width="2.2" height="3.8" fill="#f6f8c4"/>
<circle cx="369.8" cy="484.4" r="1.6" fill="#222"/>
<circle cx="424.2" cy="488.9" r="1.6" fill="#222"/>
<polygon points="470.5,489.2 521.5,494.1 521.5,504.5 470.5,499.7" fill="#f4f4f0" stroke="#a4a49c" stroke-width="0.6"/>
<polygon points="472.0,490.4 520.0,495.3 520.0,503.3 472.0,498.5" fill="#ecf092"/>
<rect x="473.3" y="492.7" width="2.2" height="4.0" fill="#f6f8c4"/>
<rect x="478.1" y="493.2" width="2.2" height="4.0" fill="#f6f8c4"/>
<rect x="482.9" y="493.7" width="2.2" height="4.0" fill="#f6f8c4"/>
<rect x="487.7" y="494.1" width="2.2" height="4.0" fill="#f6f8c4"/>
<rect x="492.5" y="494.6" width="2.2" height="4.0" fill="#f6f8c4"/>
<rect x="497.3" y="495.1" width="2.2" height="4.0" fill="#f6f8c4"/>
<rect x="502.1" y="495.6" width="2.2" height="4.0" fill="#f6f8c4"/>
<rect x="506.9" y="496.1" width="2.2" height="4.0" fill="#f6f8c4"/>
<rect x="511.7" y="496.6" width="2.2" height="4.0" fill="#f6f8c4"/>
<rect x="516.5" y="497.0" width="2.2" height="4.0" fill="#f6f8c4"/>
<circle cx="467.0" cy="494.5" r="1.6" fill="#222"/>
<circle cx="525.0" cy="499.3" r="1.6" fill="#222"/>
<polygon points="574.5,499.3 627.5,504.0 627.5,514.7 574.5,510.0" fill="#f4f4f0" stroke="#a4a49c" stroke-width="0.6"/>
<polygon points="576.0,500.5 626.0,505.2 626.0,513.5 576.0,508.8" fill="#ecf092"/>
<rect x="577.4" y="502.8" width="2.2" height="4.2" fill="#f6f8c4"/>
<rect x="582.4" y="503.3" width="2.2" height="4.2" fill="#f6f8c4"/>
<rect x="587.4" y="503.7" width="2.2" height="4.2" fill="#f6f8c4"/>
<rect x="592.4" y="504.2" width="2.2" height="4.2" fill="#f6f8c4"/>
<rect x="597.4" y="504.7" width="2.2" height="4.2" fill="#f6f8c4"/>
<rect x="602.4" y="505.1" width="2.2" height="4.2" fill="#f6f8c4"/>
<rect x="607.4" y="505.6" width="2.2" height="4.2" fill="#f6f8c4"/>
<rect x="612.4" y="506.1" width="2.2" height="4.2" fill="#f6f8c4"/>
<rect x="617.4" y="506.6" width="2.2" height="4.2" fill="#f6f8c4"/>
<rect x="622.4" y="507.0" width="2.2" height="4.2" fill="#f6f8c4"/>
<circle cx="571.0" cy="504.6" r="1.6" fill="#222"/>
<circle cx="631.0" cy="509.3" r="1.6" fill="#222"/>
<polygon points="686.5,509.5 744.2,514.6 744.2,526.0 686.5,520.8" fill="#f4f4f0" stroke="#a4a49c" stroke-width="0.6"/>
<polygon points="688.0,510.7 742.7,515.8 742.7,524.8 688.0,519.6" fill="#ecf092"/>
<rect x="689.6" y="513.2" width="2.2" height="4.5" fill="#f6f8c4"/>
<rect x="695.1" y="513.7" width="2.2" height="4.5" fill="#f6f8c4"/>
<rect x="700.6" y="514.2" width="2.2" height="4.5" fill="#f6f8c4"/>
<rect x="706.0" y="514.7" width="2.2" height="4.5" fill="#f6f8c4"/>
<rect x="711.5" y="515.2" width="2.2" height="4.5" fill="#f6f8c4"/>
<rect x="717.0" y="515.8" width="2.2" height="4.5" fill="#f6f8c4"/>
<rect x="722.5" y="516.3" width="2.2" height="4.5" fill="#f6f8c4"/>
<rect x="727.9" y="516.8" width="2.2" height="4.5" fill="#f6f8c4"/>
<rect x="733.4" y="517.3" width="2.2" height="4.5" fill="#f6f8c4"/>
<rect x="738.9" y="517.8" width="2.2" height="4.5" fill="#f6f8c4"/>
<circle cx="683.0" cy="515.2" r="1.6" fill="#222"/>
<circle cx="747.7" cy="520.3" r="1.6" fill="#222"/>
<rect x="162.1" y="447.4" width="4.0" height="5.9" fill="#1c1c1c"/>
<rect x="172.3" y="455.9" width="3.7" height="7.3" fill="#f2f2f2" stroke="#bbb" stroke-width="0.5"/>
<rect x="173.4" y="456.4" width="1.7" height="6.4" fill="#2a2a2a"/>
<circle cx="175.1" cy="468.9" r="3.3" fill="#f4f4f4" stroke="#777" stroke-width="0.7"/>
<circle cx="175.1" cy="468.9" r="1.8" fill="#151515"/>
<circle cx="183.4" cy="470.2" r="3.3" fill="#f4f4f4" stroke="#777" stroke-width="0.7"/>
<circle cx="183.4" cy="470.2" r="1.8" fill="#151515"/>
<circle cx="190.7" cy="471.4" r="3.7" fill="#2a2a2a" stroke="#666" stroke-width="0.6"/>
<rect x="169.1" y="474.0" width="8.3" height="7.7" rx="2.3" fill="#3c3c3c"/>
<path d="M174.2,474.7 A3.2,3.2 0 0 1 174.2,481.1" fill="#8a5236"/>
<rect x="191.6" y="484.6" width="5.5" height="3.7" fill="#222"/>
<rect x="149.9" y="475.3" width="4.6" height="6.4" fill="#262626"/>
<rect x="154.5" y="475.8" width="2.8" height="5.5" fill="#aaa" opacity="0.7"/>
<rect x="130.6" y="476.5" width="2.8" height="5.5" fill="#9a7a6a" opacity="0.8"/>
<line x1="163.2" y1="458.1" x2="177.8" y2="460.0" stroke="#9a9a9a" stroke-width="1.0" stroke-dasharray="1.5 0.7"/>
<line x1="133.8" y1="469.1" x2="141.2" y2="471.0" stroke="#aaa" stroke-width="0.9" stroke-dasharray="1.4 0.7"/>
<rect x="244.6" y="453.6" width="4.4" height="6.4" fill="#1c1c1c"/>
<rect x="255.8" y="462.7" width="4.0" height="8.1" fill="#f2f2f2" stroke="#bbb" stroke-width="0.5"/>
<rect x="256.9" y="463.2" width="1.8" height="7.0" fill="#2a2a2a"/>
<circle cx="258.9" cy="476.9" r="3.6" fill="#f4f4f4" stroke="#777" stroke-width="0.7"/>
<circle cx="258.9" cy="476.9" r="2.0" fill="#151515"/>
<circle cx="267.9" cy="478.1" r="3.6" fill="#f4f4f4" stroke="#777" stroke-width="0.7"/>
<circle cx="267.9" cy="478.1" r="2.0" fill="#151515"/>
<circle cx="276.0" cy="479.3" r="4.0" fill="#2a2a2a" stroke="#666" stroke-width="0.6"/>
<rect x="252.3" y="482.6" width="9.1" height="8.5" rx="2.5" fill="#3c3c3c"/>
<path d="M257.9,483.3 A3.5,3.5 0 0 1 257.9,490.3" fill="#8a5236"/>
<rect x="277.0" y="493.7" width="6.0" height="4.0" fill="#222"/>
<rect x="231.2" y="484.4" width="5.0" height="7.0" fill="#262626"/>
<rect x="236.2" y="484.9" width="3.0" height="6.0" fill="#aaa" opacity="0.7"/>
<rect x="210.1" y="485.9" width="3.0" height="6.0" fill="#9a7a6a" opacity="0.8"/>
<line x1="245.8" y1="465.4" x2="261.9" y2="467.1" stroke="#9a9a9a" stroke-width="1.1" stroke-dasharray="1.6 0.8"/>
<line x1="213.6" y1="477.8" x2="221.6" y2="479.9" stroke="#aaa" stroke-width="1.0" stroke-dasharray="1.5 0.8"/>
<rect x="329.7" y="460.4" width="4.5" height="6.6" fill="#1c1c1c"/>
<rect x="341.3" y="470.0" width="4.1" height="8.3" fill="#f2f2f2" stroke="#bbb" stroke-width="0.5"/>
<rect x="342.4" y="470.5" width="1.9" height="7.2" fill="#2a2a2a"/>
<circle cx="344.4" cy="484.5" r="3.7" fill="#f4f4f4" stroke="#777" stroke-width="0.7"/>
<circle cx="344.4" cy="484.5" r="2.0" fill="#151515"/>
<circle cx="353.6" cy="485.9" r="3.7" fill="#f4f4f4" stroke="#777" stroke-width="0.7"/>
<circle cx="353.6" cy="485.9" r="2.0" fill="#151515"/>
<circle cx="361.9" cy="487.3" r="4.1" fill="#2a2a2a" stroke="#666" stroke-width="0.6"/>
<rect x="337.6" y="490.3" width="9.3" height="8.7" rx="2.6" fill="#3c3c3c"/>
<path d="M343.3,491.0 A3.6,3.6 0 0 1 343.3,498.3" fill="#8a5236"/>
<rect x="362.9" y="502.1" width="6.2" height="4.1" fill="#222"/>
<rect x="316.0" y="491.9" width="5.2" height="7.2" fill="#262626"/>
<rect x="321.1" y="492.4" width="3.1" height="6.2" fill="#aaa" opacity="0.7"/>
<rect x="294.3" y="493.4" width="3.1" height="6.2" fill="#9a7a6a" opacity="0.8"/>
<line x1="330.9" y1="472.5" x2="347.5" y2="474.5" stroke="#9a9a9a" stroke-width="1.1" stroke-dasharray="1.7 0.8"/>
<line x1="297.9" y1="485.4" x2="306.1" y2="487.1" stroke="#aaa" stroke-width="1.0" stroke-dasharray="1.5 0.8"/>
<rect x="422.3" y="468.1" width="4.9" height="7.1" fill="#1c1c1c"/>
<rect x="434.7" y="478.5" width="4.4" height="8.9" fill="#f2f2f2" stroke="#bbb" stroke-width="0.5"/>
<rect x="436.0" y="479.1" width="2.0" height="7.8" fill="#2a2a2a"/>
<circle cx="438.1" cy="494.2" r="4.0" fill="#f4f4f4" stroke="#777" stroke-width="0.7"/>
<circle cx="438.1" cy="494.2" r="2.2" fill="#151515"/>
<circle cx="448.1" cy="495.8" r="4.0" fill="#f4f4f4" stroke="#777" stroke-width="0.7"/>
<circle cx="448.1" cy="495.8" r="2.2" fill="#151515"/>
<circle cx="456.9" cy="497.3" r="4.4" fill="#2a2a2a" stroke="#666" stroke-width="0.6"/>
<rect x="430.9" y="500.4" width="10.0" height="9.3" rx="2.8" fill="#3c3c3c"/>
<path d="M437.0,501.2 A3.9,3.9 0 0 1 437.0,508.9" fill="#8a5236"/>
<rect x="458.1" y="513.3" width="6.7" height="4.4" fill="#222"/>
<rect x="407.5" y="501.8" width="5.5" height="7.8" fill="#262626"/>
<rect x="413.1" y="502.3" width="3.3" height="6.7" fill="#aaa" opacity="0.7"/>
<rect x="384.2" y="503.2" width="3.3" height="6.7" fill="#9a7a6a" opacity="0.8"/>
<line x1="423.6" y1="481.1" x2="441.4" y2="483.4" stroke="#9a9a9a" stroke-width="1.2" stroke-dasharray="1.8 0.9"/>
<line x1="388.1" y1="494.4" x2="397.0" y2="496.5" stroke="#aaa" stroke-width="1.1" stroke-dasharray="1.7 0.9"/>
<rect x="523.4" y="476.8" width="5.3" height="7.7" fill="#1c1c1c"/>
<rect x="536.8" y="487.9" width="4.8" height="9.6" fill="#f2f2f2" stroke="#bbb" stroke-width="0.5"/>
<rect x="538.1" y="488.5" width="2.2" height="8.4" fill="#2a2a2a"/>
<circle cx="540.4" cy="504.8" r="4.3" fill="#f4f4f4" stroke="#777" stroke-width="0.7"/>
<circle cx="540.4" cy="504.8" r="2.4" fill="#151515"/>
<circle cx="551.2" cy="506.5" r="4.3" fill="#f4f4f4" stroke="#777" stroke-width="0.7"/>
<circle cx="551.2" cy="506.5" r="2.4" fill="#151515"/>
<circle cx="560.8" cy="508.0" r="4.8" fill="#2a2a2a" stroke="#666" stroke-width="0.6"/>
<rect x="532.6" y="511.6" width="10.8" height="10.1" rx="3.0" fill="#3c3c3c"/>
<path d="M539.2,512.4 A4.2,4.2 0 0 1 539.2,520.8" fill="#8a5236"/>
<rect x="562.0" y="525.2" width="7.2" height="4.8" fill="#222"/>
<rect x="507.4" y="513.4" width="6.0" height="8.4" fill="#262626"/>
<rect x="513.4" y="514.0" width="3.6" height="7.2" fill="#aaa" opacity="0.7"/>
<rect x="482.2" y="514.9" width="3.6" height="7.2" fill="#9a7a6a" opacity="0.8"/>
<line x1="524.8" y1="490.9" x2="544.0" y2="493.2" stroke="#9a9a9a" stroke-width="1.3" stroke-dasharray="1.9 1.0"/>
<line x1="486.4" y1="505.3" x2="496.0" y2="507.8" stroke="#aaa" stroke-width="1.2" stroke-dasharray="1.8 1.0"/>
<rect x="629.5" y="485.9" width="5.5" height="8.0" fill="#1c1c1c"/>
<rect x="643.5" y="497.5" width="5.0" height="10.0" fill="#f2f2f2" stroke="#bbb" stroke-width="0.5"/>
<rect x="644.9" y="498.1" width="2.2" height="8.8" fill="#2a2a2a"/>
<circle cx="647.2" cy="515.1" r="4.5" fill="#f4f4f4" stroke="#777" stroke-width="0.7"/>
<circle cx="647.2" cy="515.1" r="2.5" fill="#151515"/>
<circle cx="658.5" cy="516.8" r="4.5" fill="#f4f4f4" stroke="#777" stroke-width="0.7"/>
<circle cx="658.5" cy="516.8" r="2.5" fill="#151515"/>
<circle cx="668.5" cy="518.3" r="5.0" fill="#2a2a2a" stroke="#666" stroke-width="0.6"/>
<rect x="639.1" y="522.1" width="11.2" height="10.5" rx="3.1" fill="#3c3c3c"/>
<path d="M646.0,523.0 A4.4,4.4 0 0 1 646.0,531.7" fill="#8a5236"/>
<rect x="669.8" y="536.3" width="7.5" height="5.0" fill="#222"/>
<rect x="612.9" y="524.0" width="6.2" height="8.8" fill="#262626"/>
<rect x="619.1" y="524.7" width="3.8" height="7.5" fill="#aaa" opacity="0.7"/>
<rect x="586.6" y="525.8" width="3.8" height="7.5" fill="#9a7a6a" opacity="0.8"/>
<line x1="631.0" y1="500.6" x2="651.0" y2="502.9" stroke="#9a9a9a" stroke-width="1.4" stroke-dasharray="2.0 1.0"/>
<line x1="591.0" y1="515.9" x2="601.0" y2="518.2" stroke="#aaa" stroke-width="1.2" stroke-dasharray="1.9 1.0"/>
<rect x="746.5" y="494.7" width="6.0" height="8.8" fill="#1c1c1c"/>
<rect x="761.8" y="507.3" width="5.5" height="10.9" fill="#f2f2f2" stroke="#bbb" stroke-width="0.5"/>
<rect x="763.3" y="508.0" width="2.5" height="9.6" fill="#2a2a2a"/>
<circle cx="765.9" cy="526.6" r="4.9" fill="#f4f4f4" stroke="#777" stroke-width="0.7"/>
<circle cx="765.9" cy="526.6" r="2.7" fill="#151515"/>
<circle cx="778.3" cy="528.4" r="4.9" fill="#f4f4f4" stroke="#777" stroke-width="0.7"/>
<circle cx="778.3" cy="528.4" r="2.7" fill="#151515"/>
<circle cx="789.2" cy="530.1" r="5.5" fill="#2a2a2a" stroke="#666" stroke-width="0.6"/>
<rect x="757.1" y="534.3" width="12.3" height="11.5" rx="3.4" fill="#3c3c3c"/>
<path d="M764.6,535.2 A4.8,4.8 0 0 1 764.6,544.8" fill="#8a5236"/>
<rect x="790.6" y="549.8" width="8.2" height="5.5" fill="#222"/>
<rect x="728.3" y="536.4" width="6.8" height="9.6" fill="#262626"/>
<rect x="735.2" y="537.1" width="4.1" height="8.2" fill="#aaa" opacity="0.7"/>
<rect x="699.6" y="538.3" width="4.1" height="8.2" fill="#9a7a6a" opacity="0.8"/>
<line x1="748.2" y1="510.7" x2="770.1" y2="513.3" stroke="#9a9a9a" stroke-width="1.5" stroke-dasharray="2.2 1.1"/>
<line x1="704.4" y1="527.5" x2="715.4" y2="530.0" stroke="#aaa" stroke-width="1.4" stroke-dasharray="2.1 1.1"/>
<circle cx="109.0" cy="456.0" r="3.2" fill="#f4f4f4" stroke="#777" stroke-width="0.7"/>
<circle cx="109.0" cy="456.0" r="1.8" fill="#151515"/>
<circle cx="117.0" cy="457.0" r="3.0" fill="#f4f4f4" stroke="#777" stroke-width="0.7"/>
<circle cx="117.0" cy="457.0" r="1.7" fill="#151515"/>
<rect x="104" y="465" width="5" height="4" fill="#555"/>
<rect x="104" y="447" width="4" height="5" fill="#666"/>
<polygon points="56.0,505.4 67.8,506.8 79.6,508.1 91.4,509.5 103.2,510.9 115.0,512.3 126.8,513.7 138.6,515.0 150.4,516.4 162.2,517.8 174.0,519.2 185.8,520.5 197.6,521.9 209.4,523.3 221.2,524.7 232.9,526.0 244.7,527.4 256.5,528.8 268.3,530.2 280.1,531.5 291.9,532.9 303.7,534.3 315.5,535.7 327.3,537.1 339.1,538.4 350.9,539.8 362.7,541.2 374.5,542.6 386.3,543.9 398.1,545.3 409.9,546.7 421.7,548.1 433.5,549.4 445.3,550.8 457.1,552.2 468.9,553.6 480.7,555.0 492.5,556.3 504.3,557.7 516.1,559.1 527.9,560.5 539.7,561.8 551.5,563.2 563.3,564.6 575.1,566.0 586.8,567.3 598.6,568.7 610.4,570.1 622.2,571.5 634.0,572.9 645.8,574.2 657.6,575.6 669.4,577.0 681.2,578.4 693.0,579.7 704.8,581.1 716.6,582.5 728.4,583.9 740.2,585.2 752.0,586.6 752.0,616.2 740.2,614.9 728.4,613.6 716.6,612.3 704.8,611.0 693.0,609.6 681.2,608.3 669.4,607.0 657.6,605.7 645.8,604.4 634.0,603.0 622.2,601.7 610.4,600.4 598.6,599.1 586.8,597.8 575.1,596.5 563.3,595.1 551.5,593.8 539.7,592.5 527.9,591.2 516.1,589.9 504.3,588.6 492.5,587.2 480.7,585.9 468.9,584.6 457.1,583.3 445.3,582.0 433.5,580.6 421.7,579.3 409.9,578.0 398.1,576.7 386.3,575.4 374.5,574.1 362.7,572.7 350.9,571.4 339.1,570.1 327.3,568.8 315.5,567.5 303.7,566.2 291.9,564.8 280.1,563.5 268.3,562.2 256.5,560.9 244.7,559.6 232.9,558.2 221.2,556.9 209.4,555.6 197.6,554.3 185.8,553.0 174.0,551.7 162.2,550.3 150.4,549.0 138.6,547.7 126.8,546.4 115.0,545.1 103.2,543.8 91.4,542.4 79.6,541.1 67.8,539.8 56.0,538.5" fill="#d2d2d2"/>
<polygon points="58.0,517.5 64.0,517.9 64.0,523.3 58.0,522.8" fill="#121212"/>
<rect x="65.0" y="515.9" width="3.2" height="12.4" fill="#e4e4e4"/>
<circle cx="66.0" cy="522.1" r="2.3" fill="#7a7a7a"/>
<circle cx="67.3" cy="522.1" r="2.3" fill="#8a8a8a"/>
<polygon points="90.0,521.2 126.0,523.7 126.0,529.6 90.0,526.8" fill="#121212"/>
<rect x="127.0" y="521.7" width="20.5" height="12.9" fill="#e4e4e4"/>
<circle cx="133.2" cy="528.1" r="2.4" fill="#7a7a7a"/>
<circle cx="141.8" cy="528.1" r="2.4" fill="#8a8a8a"/>
<polygon points="166.0,529.9 205.0,532.7 205.0,539.2 166.0,536.1" fill="#121212"/>
<rect x="206.0" y="530.7" width="23.8" height="13.5" fill="#e4e4e4"/>
<circle cx="213.1" cy="537.4" r="2.6" fill="#7a7a7a"/>
<circle cx="223.1" cy="537.4" r="2.6" fill="#8a8a8a"/>
<polygon points="247.0,539.2 290.0,542.3 290.0,549.5 247.0,546.1" fill="#121212"/>
<rect x="291.0" y="540.3" width="28.0" height="14.2" fill="#e4e4e4"/>
<circle cx="299.4" cy="547.4" r="2.8" fill="#7a7a7a"/>
<circle cx="311.2" cy="547.4" r="2.8" fill="#8a8a8a"/>
<polygon points="337.0,549.6 384.0,552.9 384.0,560.8 337.0,557.2" fill="#121212"/>
<rect x="385.0" y="550.9" width="31.9" height="15.0" fill="#e4e4e4"/>
<circle cx="394.6" cy="558.4" r="3.0" fill="#7a7a7a"/>
<circle cx="408.0" cy="558.4" r="3.0" fill="#8a8a8a"/>
<polygon points="434.0,560.8 484.0,564.3 484.0,573.0 434.0,569.1" fill="#121212"/>
<rect x="485.0" y="562.3" width="34.2" height="15.8" fill="#e4e4e4"/>
<circle cx="495.3" cy="570.1" r="3.2" fill="#7a7a7a"/>
<circle cx="509.6" cy="570.1" r="3.2" fill="#8a8a8a"/>
<polygon points="542.0,573.2 597.0,577.0 597.0,586.7 542.0,582.4" fill="#121212"/>
<rect x="598.0" y="575.0" width="36.8" height="16.7" fill="#e4e4e4"/>
<circle cx="609.0" cy="583.4" r="3.4" fill="#7a7a7a"/>
<circle cx="624.5" cy="583.4" r="3.4" fill="#8a8a8a"/>
<polygon points="660.0,586.8 720.0,591.0 720.0,601.6 660.0,596.9" fill="#121212"/>
<rect x="721.0" y="589.0" width="39.6" height="17.7" fill="#e4e4e4"/>
<circle cx="732.9" cy="597.8" r="3.7" fill="#7a7a7a"/>
<circle cx="749.5" cy="597.8" r="3.7" fill="#8a8a8a"/>
<polygon points="56.0,534.5 67.8,535.8 79.6,537.1 91.4,538.4 103.2,539.8 115.0,541.1 126.8,542.4 138.6,543.7 150.4,545.0 162.2,546.3 174.0,547.7 185.8,549.0 197.6,550.3 209.4,551.6 221.2,552.9 232.9,554.2 244.7,555.6 256.5,556.9 268.3,558.2 280.1,559.5 291.9,560.8 303.7,562.2 315.5,563.5 327.3,564.8 339.1,566.1 350.9,567.4 362.7,568.7 374.5,570.1 386.3,571.4 398.1,572.7 409.9,574.0 421.7,575.3 433.5,576.6 445.3,578.0 457.1,579.3 468.9,580.6 480.7,581.9 492.5,583.2 504.3,584.6 516.1,585.9 527.9,587.2 539.7,588.5 551.5,589.8 563.3,591.1 575.1,592.5 586.8,593.8 598.6,595.1 610.4,596.4 622.2,597.7 634.0,599.0 645.8,600.4 657.6,601.7 669.4,603.0 681.2,604.3 693.0,605.6 704.8,607.0 716.6,608.3 728.4,609.6 734.0,610.2 734.0,644.0 734.0,644.0 726.4,643.7 718.8,642.3 711.1,640.1 703.5,642.9 695.9,639.3 688.3,641.8 680.7,637.7 673.1,636.7 665.4,635.7 657.8,632.6 650.2,635.5 642.6,632.0 635.0,634.6 627.3,631.4 619.7,629.9 612.1,629.2 604.5,625.3 596.9,628.1 589.3,624.6 581.6,627.1 574.0,624.9 566.4,623.0 558.8,622.9 551.2,618.2 543.6,620.7 535.9,617.3 528.3,619.5 520.7,618.3 513.1,616.1 505.5,616.6 497.8,611.4 490.2,613.5 482.6,610.1 475.0,611.7 467.4,611.4 459.8,609.0 452.1,610.2 444.5,604.8 436.9,606.4 429.3,603.0 421.7,603.8 414.0,604.4 406.4,601.8 398.8,603.7 391.2,598.3 383.6,599.5 376.0,596.2 368.3,596.0 360.7,597.2 353.1,594.4 345.5,596.9 337.9,591.9 330.2,592.6 322.6,589.5 315.0,588.4 307.4,589.9 299.8,586.9 292.2,589.9 284.5,585.4 276.9,585.8 269.3,583.1 261.7,580.9 254.1,582.7 246.4,579.4 238.8,582.7 231.2,578.9 223.6,579.0 216.0,576.9 208.4,573.7 200.7,575.5 193.1,571.8 185.5,575.2 177.9,572.2 170.3,572.0 162.7,570.7 155.0,566.7 147.4,568.5 139.8,564.4 132.2,567.5 124.6,565.3 116.9,564.9 109.3,564.4 101.7,559.9 94.1,561.6 86.5,557.2 78.9,559.7 71.2,558.2 63.6,557.6 56.0,558.1" fill="url(#gBlue)"/>
<ellipse cx="82.5" cy="546.6" rx="7.1" ry="12.1" fill="url(#gLensG)" opacity="0.9"/>
<ellipse cx="96.9" cy="548.4" rx="7.2" ry="12.3" fill="url(#gLensG)" opacity="0.9"/>
<ellipse cx="111.6" cy="550.1" rx="7.4" ry="12.5" fill="url(#gLensG)" opacity="0.9"/>
<ellipse cx="126.5" cy="551.9" rx="7.5" ry="12.7" fill="url(#gLensG)" opacity="0.9"/>
<ellipse cx="141.8" cy="553.7" rx="7.6" ry="13.0" fill="url(#gLensG)" opacity="0.9"/>
<ellipse cx="157.2" cy="555.6" rx="7.8" ry="13.2" fill="url(#gLensG)" opacity="0.9"/>
<ellipse cx="157.2" cy="555.6" rx="7.8" ry="13.2" fill="url(#gLensB)" opacity="0.00"/>
<ellipse cx="173.0" cy="557.5" rx="7.9" ry="13.4" fill="url(#gLensG)" opacity="0.9"/>
<ellipse cx="173.0" cy="557.5" rx="7.9" ry="13.4" fill="url(#gLensB)" opacity="0.04"/>
<ellipse cx="189.1" cy="559.4" rx="8.0" ry="13.7" fill="url(#gLensG)" opacity="0.9"/>
<ellipse cx="189.1" cy="559.4" rx="8.0" ry="13.7" fill="url(#gLensB)" opacity="0.09"/>
<ellipse cx="205.4" cy="561.4" rx="8.2" ry="13.9" fill="url(#gLensG)" opacity="0.9"/>
<ellipse cx="205.4" cy="561.4" rx="8.2" ry="13.9" fill="url(#gLensB)" opacity="0.13"/>
<ellipse cx="222.1" cy="563.4" rx="8.3" ry="14.2" fill="url(#gLensG)" opacity="0.9"/>
<ellipse cx="222.1" cy="563.4" rx="8.3" ry="14.2" fill="url(#gLensB)" opacity="0.17"/>
<ellipse cx="239.0" cy="565.4" rx="8.5" ry="14.4" fill="url(#gLensG)" opacity="0.9"/>
<ellipse cx="239.0" cy="565.4" rx="8.5" ry="14.4" fill="url(#gLensB)" opacity="0.21"/>
<ellipse cx="256.2" cy="567.5" rx="8.6" ry="14.7" fill="url(#gLensG)" opacity="0.9"/>
<ellipse cx="256.2" cy="567.5" rx="8.6" ry="14.7" fill="url(#gLensB)" opacity="0.26"/>
<ellipse cx="273.8" cy="569.6" rx="8.8" ry="15.0" fill="url(#gLensG)" opacity="0.9"/>
<ellipse cx="273.8" cy="569.6" rx="8.8" ry="15.0" fill="url(#gLensB)" opacity="0.30"/>
<ellipse cx="291.7" cy="571.7" rx="9.0" ry="15.2" fill="url(#gLensG)" opacity="0.9"/>
<ellipse cx="291.7" cy="571.7" rx="9.0" ry="15.2" fill="url(#gLensB)" opacity="0.35"/>
<ellipse cx="309.9" cy="573.9" rx="9.1" ry="15.5" fill="url(#gLensG)" opacity="0.9"/>
<ellipse cx="309.9" cy="573.9" rx="9.1" ry="15.5" fill="url(#gLensB)" opacity="0.39"/>
<ellipse cx="328.4" cy="576.1" rx="9.3" ry="15.8" fill="url(#gLensG)" opacity="0.9"/>
<ellipse cx="328.4" cy="576.1" rx="9.3" ry="15.8" fill="url(#gLensB)" opacity="0.44"/>
<ellipse cx="347.2" cy="578.4" rx="9.4" ry="16.1" fill="url(#gLensG)" opacity="0.9"/>
<ellipse cx="347.2" cy="578.4" rx="9.4" ry="16.1" fill="url(#gLensB)" opacity="0.49"/>
<ellipse cx="366.4" cy="580.7" rx="9.6" ry="16.4" fill="url(#gLensG)" opacity="0.9"/>
<ellipse cx="366.4" cy="580.7" rx="9.6" ry="16.4" fill="url(#gLensB)" opacity="0.54"/>
<ellipse cx="385.9" cy="583.0" rx="9.8" ry="16.6" fill="url(#gLensG)" opacity="0.9"/>
<ellipse cx="385.9" cy="583.0" rx="9.8" ry="16.6" fill="url(#gLensB)" opacity="0.59"/>
<ellipse cx="405.8" cy="585.4" rx="10.0" ry="16.9" fill="url(#gLensG)" opacity="0.9"/>
<ellipse cx="405.8" cy="585.4" rx="10.0" ry="16.9" fill="url(#gLensB)" opacity="0.64"/>
<ellipse cx="426.0" cy="587.8" rx="10.1" ry="17.2" fill="url(#gLensG)" opacity="0.9"/>
<ellipse cx="426.0" cy="587.8" rx="10.1" ry="17.2" fill="url(#gLensB)" opacity="0.69"/>
<ellipse cx="446.6" cy="590.3" rx="10.3" ry="17.5" fill="url(#gLensG)" opacity="0.9"/>
<ellipse cx="446.6" cy="590.3" rx="10.3" ry="17.5" fill="url(#gLensB)" opacity="0.74"/>
<ellipse cx="467.6" cy="592.8" rx="10.5" ry="17.9" fill="url(#gLensG)" opacity="0.9"/>
<ellipse cx="467.6" cy="592.8" rx="10.5" ry="17.9" fill="url(#gLensB)" opacity="0.80"/>
<ellipse cx="488.9" cy="595.3" rx="10.7" ry="18.2" fill="url(#gLensG)" opacity="0.9"/>
<ellipse cx="488.9" cy="595.3" rx="10.7" ry="18.2" fill="url(#gLensB)" opacity="0.85"/>
<ellipse cx="510.6" cy="597.9" rx="10.9" ry="18.5" fill="url(#gLensG)" opacity="0.9"/>
<ellipse cx="510.6" cy="597.9" rx="10.9" ry="18.5" fill="url(#gLensB)" opacity="0.90"/>
<ellipse cx="532.6" cy="600.6" rx="11.1" ry="18.8" fill="url(#gLensG)" opacity="0.9"/>
<ellipse cx="532.6" cy="600.6" rx="11.1" ry="18.8" fill="url(#gLensB)" opacity="0.90"/>
<ellipse cx="555.1" cy="603.3" rx="11.3" ry="19.1" fill="url(#gLensG)" opacity="0.9"/>
<ellipse cx="555.1" cy="603.3" rx="11.3" ry="19.1" fill="url(#gLensB)" opacity="0.90"/>
<ellipse cx="577.9" cy="606.0" rx="11.4" ry="19.5" fill="url(#gLensG)" opacity="0.9"/>
<ellipse cx="577.9" cy="606.0" rx="11.4" ry="19.5" fill="url(#gLensB)" opacity="0.90"/>
<ellipse cx="601.2" cy="608.8" rx="11.6" ry="19.8" fill="url(#gLensG)" opacity="0.9"/>
<ellipse cx="601.2" cy="608.8" rx="11.6" ry="19.8" fill="url(#gLensB)" opacity="0.90"/>
<ellipse cx="624.8" cy="611.6" rx="11.8" ry="20.1" fill="url(#gLensG)" opacity="0.9"/>
<ellipse cx="624.8" cy="611.6" rx="11.8" ry="20.1" fill="url(#gLensB)" opacity="0.90"/>
<ellipse cx="648.8" cy="614.5" rx="12.0" ry="20.5" fill="url(#gLensG)" opacity="0.9"/>
<ellipse cx="648.8" cy="614.5" rx="12.0" ry="20.5" fill="url(#gLensB)" opacity="0.90"/>
<ellipse cx="673.3" cy="617.4" rx="12.3" ry="20.8" fill="url(#gLensG)" opacity="0.9"/>
<ellipse cx="673.3" cy="617.4" rx="12.3" ry="20.8" fill="url(#gLensB)" opacity="0.90"/>
<ellipse cx="698.2" cy="620.4" rx="12.5" ry="21.2" fill="url(#gLensG)" opacity="0.9"/>
<ellipse cx="698.2" cy="620.4" rx="12.5" ry="21.2" fill="url(#gLensB)" opacity="0.90"/>
<ellipse cx="723.4" cy="623.4" rx="12.7" ry="21.5" fill="url(#gLensG)" opacity="0.9"/>
<ellipse cx="723.4" cy="623.4" rx="12.7" ry="21.5" fill="url(#gLensB)" opacity="0.90"/>
<line x1="78.9" y1="541.9" x2="85.3" y2="538.4" stroke="#93a6b4" stroke-width="2.0" stroke-linecap="round"/>
<line x1="76.8" y1="549.7" x2="73.2" y2="557.5" stroke="#9db0be" stroke-width="2.3" stroke-linecap="round"/>
<ellipse cx="77.5" cy="545.5" rx="1.7" ry="2.6" fill="#8a9094"/>
<line x1="93.3" y1="543.6" x2="99.8" y2="539.9" stroke="#93a6b4" stroke-width="2.0" stroke-linecap="round"/>
<line x1="91.1" y1="551.5" x2="87.5" y2="559.5" stroke="#9db0be" stroke-width="2.3" stroke-linecap="round"/>
<ellipse cx="91.8" cy="547.2" rx="1.7" ry="2.6" fill="#8a9094"/>
<line x1="107.9" y1="545.2" x2="114.5" y2="541.6" stroke="#93a6b4" stroke-width="2.1" stroke-linecap="round"/>
<line x1="105.7" y1="553.3" x2="102.0" y2="561.4" stroke="#9db0be" stroke-width="2.4" stroke-linecap="round"/>
<ellipse cx="106.4" cy="548.9" rx="1.8" ry="2.7" fill="#8a9094"/>
<line x1="122.8" y1="547.0" x2="129.5" y2="543.2" stroke="#93a6b4" stroke-width="2.1" stroke-linecap="round"/>
<line x1="120.5" y1="555.2" x2="116.8" y2="563.4" stroke="#9db0be" stroke-width="2.4" stroke-linecap="round"/>
<ellipse cx="121.3" cy="550.7" rx="1.8" ry="2.7" fill="#8a9094"/>
<line x1="137.9" y1="548.7" x2="144.8" y2="544.9" stroke="#93a6b4" stroke-width="2.1" stroke-linecap="round"/>
<line x1="135.7" y1="557.1" x2="131.8" y2="565.5" stroke="#9db0be" stroke-width="2.4" stroke-linecap="round"/>
<ellipse cx="136.4" cy="552.5" rx="1.8" ry="2.7" fill="#8a9094"/>
<line x1="153.4" y1="550.5" x2="160.4" y2="546.6" stroke="#93a6b4" stroke-width="2.2" stroke-linecap="round"/>
<line x1="151.0" y1="559.0" x2="147.2" y2="567.6" stroke="#9db0be" stroke-width="2.5" stroke-linecap="round"/>
<ellipse cx="151.8" cy="554.3" rx="1.9" ry="2.8" fill="#8a9094"/>
<line x1="169.1" y1="552.3" x2="176.2" y2="548.3" stroke="#93a6b4" stroke-width="2.2" stroke-linecap="round"/>
<line x1="166.7" y1="561.0" x2="162.7" y2="569.7" stroke="#9db0be" stroke-width="2.5" stroke-linecap="round"/>
<ellipse cx="167.5" cy="556.2" rx="1.9" ry="2.8" fill="#8a9094"/>
<line x1="185.1" y1="554.1" x2="192.3" y2="550.1" stroke="#93a6b4" stroke-width="2.3" stroke-linecap="round"/>
<line x1="182.6" y1="563.0" x2="178.6" y2="571.8" stroke="#9db0be" stroke-width="2.6" stroke-linecap="round"/>
<ellipse cx="183.4" cy="558.1" rx="1.9" ry="2.9" fill="#8a9094"/>
<line x1="201.3" y1="556.0" x2="208.7" y2="551.9" stroke="#93a6b4" stroke-width="2.3" stroke-linecap="round"/>
<line x1="198.9" y1="565.0" x2="194.8" y2="574.0" stroke="#9db0be" stroke-width="2.6" stroke-linecap="round"/>
<ellipse cx="199.7" cy="560.1" rx="2.8" ry="3.6" fill="#3c464c"/>
<line x1="217.9" y1="557.9" x2="225.4" y2="553.7" stroke="#93a6b4" stroke-width="2.3" stroke-linecap="round"/>
<line x1="215.4" y1="567.1" x2="211.2" y2="576.2" stroke="#9db0be" stroke-width="2.7" stroke-linecap="round"/>
<ellipse cx="216.2" cy="562.0" rx="2.8" ry="3.7" fill="#3c464c"/>
<line x1="234.8" y1="559.8" x2="242.4" y2="555.6" stroke="#93a6b4" stroke-width="2.4" stroke-linecap="round"/>
<line x1="232.2" y1="569.2" x2="228.0" y2="578.5" stroke="#9db0be" stroke-width="2.7" stroke-linecap="round"/>
<ellipse cx="233.1" cy="564.1" rx="2.9" ry="3.7" fill="#3c464c"/>
<line x1="251.9" y1="561.8" x2="259.7" y2="557.5" stroke="#93a6b4" stroke-width="2.4" stroke-linecap="round"/>
<line x1="249.3" y1="571.3" x2="245.0" y2="580.8" stroke="#9db0be" stroke-width="2.8" stroke-linecap="round"/>
<ellipse cx="250.2" cy="566.1" rx="2.9" ry="3.8" fill="#3c464c"/>
<line x1="269.4" y1="563.8" x2="277.3" y2="559.4" stroke="#93a6b4" stroke-width="2.5" stroke-linecap="round"/>
<line x1="266.8" y1="573.5" x2="262.4" y2="583.2" stroke="#9db0be" stroke-width="2.8" stroke-linecap="round"/>
<ellipse cx="267.6" cy="568.2" rx="3.0" ry="3.9" fill="#3c464c"/>
<line x1="287.2" y1="565.8" x2="295.3" y2="561.4" stroke="#93a6b4" stroke-width="2.5" stroke-linecap="round"/>
<line x1="284.5" y1="575.7" x2="280.0" y2="585.5" stroke="#9db0be" stroke-width="2.9" stroke-linecap="round"/>
<ellipse cx="285.4" cy="570.3" rx="3.0" ry="3.9" fill="#3c464c"/>
<line x1="305.3" y1="567.9" x2="313.5" y2="563.4" stroke="#93a6b4" stroke-width="2.6" stroke-linecap="round"/>
<line x1="302.6" y1="577.9" x2="298.0" y2="588.0" stroke="#9db0be" stroke-width="2.9" stroke-linecap="round"/>
<ellipse cx="303.5" cy="572.5" rx="3.1" ry="4.0" fill="#3c464c"/>
<line x1="323.7" y1="570.0" x2="332.1" y2="565.4" stroke="#93a6b4" stroke-width="2.6" stroke-linecap="round"/>
<line x1="321.0" y1="580.2" x2="316.3" y2="590.5" stroke="#9db0be" stroke-width="3.0" stroke-linecap="round"/>
<ellipse cx="321.9" cy="574.7" rx="3.2" ry="4.1" fill="#3c464c"/>
<line x1="342.5" y1="572.2" x2="351.0" y2="567.5" stroke="#93a6b4" stroke-width="2.6" stroke-linecap="round"/>
<line x1="339.7" y1="582.6" x2="334.9" y2="593.0" stroke="#9db0be" stroke-width="3.0" stroke-linecap="round"/>
<ellipse cx="340.6" cy="576.9" rx="3.2" ry="4.2" fill="#3c464c"/>
<line x1="361.6" y1="574.4" x2="370.3" y2="569.6" stroke="#93a6b4" stroke-width="2.7" stroke-linecap="round"/>
<line x1="358.7" y1="585.0" x2="353.9" y2="595.5" stroke="#9db0be" stroke-width="3.1" stroke-linecap="round"/>
<ellipse cx="359.7" cy="579.2" rx="3.3" ry="4.2" fill="#3c464c"/>
<line x1="381.1" y1="576.6" x2="389.9" y2="571.7" stroke="#93a6b4" stroke-width="2.7" stroke-linecap="round"/>
<line x1="378.1" y1="587.4" x2="373.2" y2="598.2" stroke="#9db0be" stroke-width="3.1" stroke-linecap="round"/>
<ellipse cx="379.1" cy="581.5" rx="3.3" ry="4.3" fill="#3c464c"/>
<line x1="400.8" y1="578.9" x2="409.8" y2="573.9" stroke="#93a6b4" stroke-width="2.8" stroke-linecap="round"/>
<line x1="397.8" y1="589.8" x2="392.9" y2="600.8" stroke="#9db0be" stroke-width="3.2" stroke-linecap="round"/>
<ellipse cx="398.8" cy="583.9" rx="3.4" ry="4.4" fill="#3c464c"/>
<line x1="421.0" y1="581.2" x2="430.1" y2="576.1" stroke="#93a6b4" stroke-width="2.8" stroke-linecap="round"/>
<line x1="417.9" y1="592.4" x2="412.9" y2="603.5" stroke="#9db0be" stroke-width="3.2" stroke-linecap="round"/>
<ellipse cx="418.9" cy="586.3" rx="3.4" ry="4.5" fill="#3c464c"/>
<line x1="441.5" y1="583.6" x2="450.8" y2="578.4" stroke="#93a6b4" stroke-width="2.9" stroke-linecap="round"/>
<line x1="438.4" y1="594.9" x2="433.2" y2="606.3" stroke="#9db0be" stroke-width="3.3" stroke-linecap="round"/>
<ellipse cx="439.4" cy="588.7" rx="3.5" ry="4.5" fill="#3c464c"/>
<line x1="462.3" y1="586.0" x2="471.8" y2="580.7" stroke="#93a6b4" stroke-width="2.9" stroke-linecap="round"/>
<line x1="459.2" y1="597.5" x2="453.9" y2="609.1" stroke="#9db0be" stroke-width="3.4" stroke-linecap="round"/>
<ellipse cx="460.2" cy="591.2" rx="4.0" ry="4.6" fill="#4c6070"/>
<line x1="483.5" y1="588.4" x2="493.2" y2="583.0" stroke="#93a6b4" stroke-width="3.0" stroke-linecap="round"/>
<line x1="480.3" y1="600.1" x2="475.0" y2="611.9" stroke="#9db0be" stroke-width="3.4" stroke-linecap="round"/>
<ellipse cx="481.4" cy="593.7" rx="4.1" ry="4.7" fill="#4c6070"/>
<line x1="505.1" y1="590.9" x2="514.9" y2="585.4" stroke="#93a6b4" stroke-width="3.0" stroke-linecap="round"/>
<line x1="501.9" y1="602.8" x2="496.4" y2="614.8" stroke="#9db0be" stroke-width="3.5" stroke-linecap="round"/>
<ellipse cx="503.0" cy="596.3" rx="4.1" ry="4.8" fill="#4c6070"/>
<line x1="527.1" y1="593.4" x2="537.1" y2="587.9" stroke="#93a6b4" stroke-width="3.1" stroke-linecap="round"/>
<line x1="523.8" y1="605.6" x2="518.3" y2="617.7" stroke="#9db0be" stroke-width="3.5" stroke-linecap="round"/>
<ellipse cx="524.9" cy="598.9" rx="4.2" ry="4.9" fill="#4c6070"/>
<line x1="549.5" y1="596.0" x2="559.6" y2="590.3" stroke="#93a6b4" stroke-width="3.2" stroke-linecap="round"/>
<line x1="546.1" y1="608.4" x2="540.5" y2="620.7" stroke="#9db0be" stroke-width="3.6" stroke-linecap="round"/>
<ellipse cx="547.2" cy="601.6" rx="4.3" ry="5.0" fill="#4c6070"/>
<line x1="572.2" y1="598.6" x2="582.5" y2="592.9" stroke="#93a6b4" stroke-width="3.2" stroke-linecap="round"/>
<line x1="568.8" y1="611.2" x2="563.1" y2="623.8" stroke="#9db0be" stroke-width="3.7" stroke-linecap="round"/>
<ellipse cx="569.9" cy="604.3" rx="4.4" ry="5.0" fill="#4c6070"/>
<line x1="595.3" y1="601.2" x2="605.8" y2="595.4" stroke="#93a6b4" stroke-width="3.3" stroke-linecap="round"/>
<line x1="591.9" y1="614.1" x2="586.0" y2="626.9" stroke="#9db0be" stroke-width="3.7" stroke-linecap="round"/>
<ellipse cx="593.0" cy="607.1" rx="4.4" ry="5.1" fill="#4c6070"/>
<line x1="618.9" y1="604.0" x2="629.5" y2="598.0" stroke="#93a6b4" stroke-width="3.3" stroke-linecap="round"/>
<line x1="615.3" y1="617.0" x2="609.4" y2="630.0" stroke="#9db0be" stroke-width="3.8" stroke-linecap="round"/>
<ellipse cx="616.5" cy="609.9" rx="4.5" ry="5.2" fill="#4c6070"/>
<line x1="642.8" y1="606.7" x2="653.7" y2="600.7" stroke="#93a6b4" stroke-width="3.4" stroke-linecap="round"/>
<line x1="639.2" y1="620.0" x2="633.2" y2="633.2" stroke="#9db0be" stroke-width="3.9" stroke-linecap="round"/>
<ellipse cx="640.4" cy="612.7" rx="4.6" ry="5.3" fill="#4c6070"/>
<line x1="667.2" y1="609.5" x2="678.2" y2="603.4" stroke="#93a6b4" stroke-width="3.4" stroke-linecap="round"/>
<line x1="663.5" y1="623.0" x2="657.4" y2="636.5" stroke="#9db0be" stroke-width="3.9" stroke-linecap="round"/>
<ellipse cx="664.7" cy="615.6" rx="4.7" ry="5.4" fill="#4c6070"/>
<line x1="691.9" y1="612.4" x2="703.1" y2="606.1" stroke="#93a6b4" stroke-width="3.5" stroke-linecap="round"/>
<line x1="688.2" y1="626.1" x2="682.0" y2="639.8" stroke="#9db0be" stroke-width="4.0" stroke-linecap="round"/>
<ellipse cx="689.4" cy="618.6" rx="4.7" ry="5.5" fill="#4c6070"/>
<line x1="717.1" y1="615.3" x2="728.5" y2="608.9" stroke="#93a6b4" stroke-width="3.5" stroke-linecap="round"/>
<line x1="713.3" y1="629.2" x2="707.0" y2="643.1" stroke="#9db0be" stroke-width="4.1" stroke-linecap="round"/>
<ellipse cx="714.6" cy="621.6" rx="4.8" ry="5.6" fill="#4c6070"/>
<polygon points="56.0,494.8 67.8,496.0 79.6,497.2 91.4,498.3 103.2,499.5 115.0,500.7 126.8,501.9 138.6,503.1 150.4,504.3 162.2,505.5 174.0,506.6 185.8,507.8 197.6,509.0 209.4,510.2 221.2,511.4 232.9,512.6 244.7,513.7 256.5,514.9 268.3,516.1 280.1,517.3 291.9,518.5 303.7,519.7 315.5,520.9 327.3,522.0 339.1,523.2 350.9,524.4 362.7,525.6 374.5,526.8 386.3,528.0 398.1,529.1 409.9,530.3 421.7,531.5 433.5,532.7 445.3,533.9 457.1,535.1 468.9,536.2 480.7,537.4 492.5,538.6 504.3,539.8 516.1,541.0 527.9,542.2 539.7,543.4 551.5,544.5 563.3,545.7 575.1,546.9 586.8,548.1 598.6,549.3 610.4,550.5 622.2,551.6 634.0,552.8 645.8,554.0 657.6,555.2 669.4,556.4 681.2,557.6 693.0,558.8 704.8,559.9 716.6,561.1 728.4,562.3 740.2,563.5 752.0,564.7 752.0,590.6 740.2,589.2 728.4,587.9 716.6,586.5 704.8,585.1 693.0,583.7 681.2,582.4 669.4,581.0 657.6,579.6 645.8,578.2 634.0,576.9 622.2,575.5 610.4,574.1 598.6,572.7 586.8,571.3 575.1,570.0 563.3,568.6 551.5,567.2 539.7,565.8 527.9,564.5 516.1,563.1 504.3,561.7 492.5,560.3 480.7,559.0 468.9,557.6 457.1,556.2 445.3,554.8 433.5,553.4 421.7,552.1 409.9,550.7 398.1,549.3 386.3,547.9 374.5,546.6 362.7,545.2 350.9,543.8 339.1,542.4 327.3,541.1 315.5,539.7 303.7,538.3 291.9,536.9 280.1,535.5 268.3,534.2 256.5,532.8 244.7,531.4 232.9,530.0 221.2,528.7 209.4,527.3 197.6,525.9 185.8,524.5 174.0,523.2 162.2,521.8 150.4,520.4 138.6,519.0 126.8,517.7 115.0,516.3 103.2,514.9 91.4,513.5 79.6,512.1 67.8,510.8 56.0,509.4" fill="#9a9a9a"/>
<ellipse cx="63" cy="501.2" rx="7" ry="10" fill="url(#gLens)"/>
<ellipse cx="82.2" cy="503.2" rx="7.1" ry="11.1" transform="rotate(28 82.2 503.2)" fill="url(#gLens)"/>
<ellipse cx="96.6" cy="504.7" rx="7.2" ry="11.3" transform="rotate(28 96.6 504.7)" fill="url(#gLens)"/>
<ellipse cx="111.3" cy="506.3" rx="7.4" ry="11.5" transform="rotate(28 111.3 506.3)" fill="url(#gLens)"/>
<ellipse cx="126.2" cy="508.0" rx="7.5" ry="11.7" transform="rotate(28 126.2 508.0)" fill="url(#gLens)"/>
<ellipse cx="141.5" cy="509.6" rx="7.6" ry="11.9" transform="rotate(28 141.5 509.6)" fill="url(#gLens)"/>
<ellipse cx="156.9" cy="511.3" rx="7.8" ry="12.1" transform="rotate(28 156.9 511.3)" fill="url(#gLens)"/>
<ellipse cx="172.7" cy="513.0" rx="7.9" ry="12.3" transform="rotate(28 172.7 513.0)" fill="url(#gLens)"/>
<ellipse cx="188.8" cy="514.8" rx="8.0" ry="12.6" transform="rotate(28 188.8 514.8)" fill="url(#gLens)"/>
<ellipse cx="205.1" cy="516.5" rx="8.2" ry="12.8" transform="rotate(28 205.1 516.5)" fill="url(#gLens)"/>
<ellipse cx="221.7" cy="518.3" rx="8.3" ry="13.0" transform="rotate(28 221.7 518.3)" fill="url(#gLens)"/>
<ellipse cx="238.7" cy="520.2" rx="8.5" ry="13.2" transform="rotate(28 238.7 520.2)" fill="url(#gLens)"/>
<ellipse cx="255.9" cy="522.0" rx="8.6" ry="13.5" transform="rotate(28 255.9 522.0)" fill="url(#gLens)"/>
<ellipse cx="273.5" cy="524.0" rx="8.8" ry="13.7" transform="rotate(28 273.5 524.0)" fill="url(#gLens)"/>
<ellipse cx="291.3" cy="525.9" rx="9.0" ry="14.0" transform="rotate(28 291.3 525.9)" fill="url(#gLens)"/>
<ellipse cx="309.5" cy="527.9" rx="9.1" ry="14.2" transform="rotate(28 309.5 527.9)" fill="url(#gLens)"/>
<ellipse cx="328.0" cy="529.9" rx="9.3" ry="14.5" transform="rotate(28 328.0 529.9)" fill="url(#gLens)"/>
<ellipse cx="346.9" cy="531.9" rx="9.4" ry="14.7" transform="rotate(28 346.9 531.9)" fill="url(#gLens)"/>
<ellipse cx="366.0" cy="534.0" rx="9.6" ry="15.0" transform="rotate(28 366.0 534.0)" fill="url(#gLens)"/>
<ellipse cx="385.6" cy="536.1" rx="9.8" ry="15.3" transform="rotate(28 385.6 536.1)" fill="url(#gLens)"/>
<ellipse cx="405.4" cy="538.3" rx="10.0" ry="15.5" transform="rotate(28 405.4 538.3)" fill="url(#gLens)"/>
<ellipse cx="425.6" cy="540.5" rx="10.1" ry="15.8" transform="rotate(28 425.6 540.5)" fill="url(#gLens)"/>
<ellipse cx="446.2" cy="542.7" rx="10.3" ry="16.1" transform="rotate(28 446.2 542.7)" fill="url(#gLens)"/>
<ellipse cx="467.2" cy="545.0" rx="10.5" ry="16.4" transform="rotate(28 467.2 545.0)" fill="url(#gLens)"/>
<ellipse cx="488.5" cy="547.3" rx="10.7" ry="16.7" transform="rotate(28 488.5 547.3)" fill="url(#gLens)"/>
<ellipse cx="510.1" cy="549.7" rx="10.9" ry="17.0" transform="rotate(28 510.1 549.7)" fill="url(#gLens)"/>
<ellipse cx="532.2" cy="552.1" rx="11.1" ry="17.3" transform="rotate(28 532.2 552.1)" fill="url(#gLens)"/>
<ellipse cx="554.6" cy="554.5" rx="11.3" ry="17.6" transform="rotate(28 554.6 554.5)" fill="url(#gLens)"/>
<ellipse cx="577.5" cy="557.0" rx="11.4" ry="17.9" transform="rotate(28 577.5 557.0)" fill="url(#gLens)"/>
<ellipse cx="600.7" cy="559.5" rx="11.6" ry="18.2" transform="rotate(28 600.7 559.5)" fill="url(#gLens)"/>
<ellipse cx="624.3" cy="562.1" rx="11.8" ry="18.5" transform="rotate(28 624.3 562.1)" fill="url(#gLens)"/>
<ellipse cx="648.4" cy="564.7" rx="12.0" ry="18.8" transform="rotate(28 648.4 564.7)" fill="url(#gLens)"/>
<ellipse cx="672.8" cy="567.3" rx="12.3" ry="19.1" transform="rotate(28 672.8 567.3)" fill="url(#gLens)"/>
<ellipse cx="697.7" cy="570.0" rx="12.5" ry="19.4" transform="rotate(28 697.7 570.0)" fill="url(#gLens)"/>
<ellipse cx="722.9" cy="572.8" rx="12.7" ry="19.8" transform="rotate(28 722.9 572.8)" fill="url(#gLens)"/>
<ellipse cx="748.6" cy="575.6" rx="12.9" ry="20.1" transform="rotate(28 748.6 575.6)" fill="url(#gLens)"/>
<path d="M77.8,498.9 Q76.8,494.6 73.2,491.8" stroke="#686868" stroke-width="2.8" fill="none" stroke-linecap="round"/>
<path d="M77.2,505.3 Q76.1,510.3 72.9,513.8" stroke="#4e4a4c" stroke-width="2.4" fill="none" stroke-linecap="round"/>
<ellipse cx="77.5" cy="501.8" rx="2.1" ry="3.3" fill="#141414"/>
<path d="M92.1,500.4 Q91.1,496.1 87.5,493.2" stroke="#686868" stroke-width="2.9" fill="none" stroke-linecap="round"/>
<path d="M91.5,506.9 Q90.4,512.0 87.2,515.6" stroke="#4e4a4c" stroke-width="2.5" fill="none" stroke-linecap="round"/>
<ellipse cx="91.8" cy="503.3" rx="2.2" ry="3.3" fill="#141414"/>
<path d="M106.7,501.9 Q105.7,497.5 102.0,494.6" stroke="#686868" stroke-width="2.9" fill="none" stroke-linecap="round"/>
<path d="M106.1,508.5 Q105.0,513.7 101.7,517.4" stroke="#4e4a4c" stroke-width="2.5" fill="none" stroke-linecap="round"/>
<ellipse cx="106.4" cy="504.9" rx="2.2" ry="3.4" fill="#141414"/>
<path d="M121.6,503.5 Q120.5,499.0 116.8,496.0" stroke="#686868" stroke-width="3.0" fill="none" stroke-linecap="round"/>
<path d="M121.0,510.2 Q119.8,515.5 116.5,519.2" stroke="#4e4a4c" stroke-width="2.5" fill="none" stroke-linecap="round"/>
<ellipse cx="121.3" cy="506.5" rx="2.2" ry="3.4" fill="#141414"/>
<path d="M136.7,505.0 Q135.7,500.5 131.8,497.4" stroke="#686868" stroke-width="3.1" fill="none" stroke-linecap="round"/>
<path d="M136.1,511.9 Q134.9,517.2 131.5,521.1" stroke="#4e4a4c" stroke-width="2.6" fill="none" stroke-linecap="round"/>
<ellipse cx="136.4" cy="508.1" rx="2.3" ry="3.5" fill="#141414"/>
<path d="M152.1,506.6 Q151.0,502.0 147.2,498.9" stroke="#686868" stroke-width="3.1" fill="none" stroke-linecap="round"/>
<path d="M151.5,513.6 Q150.3,519.1 146.8,522.9" stroke="#4e4a4c" stroke-width="2.6" fill="none" stroke-linecap="round"/>
<ellipse cx="151.8" cy="509.7" rx="2.3" ry="3.6" fill="#141414"/>
<path d="M167.8,508.3 Q166.7,503.5 162.7,500.4" stroke="#686868" stroke-width="3.2" fill="none" stroke-linecap="round"/>
<path d="M167.2,515.4 Q165.9,520.9 162.4,524.9" stroke="#4e4a4c" stroke-width="2.7" fill="none" stroke-linecap="round"/>
<ellipse cx="167.5" cy="511.4" rx="2.4" ry="3.6" fill="#141414"/>
<path d="M183.8,509.9 Q182.6,505.1 178.6,501.9" stroke="#686868" stroke-width="3.2" fill="none" stroke-linecap="round"/>
<path d="M183.1,517.2 Q181.8,522.8 178.3,526.8" stroke="#4e4a4c" stroke-width="2.7" fill="none" stroke-linecap="round"/>
<ellipse cx="183.4" cy="513.1" rx="2.4" ry="3.7" fill="#141414"/>
<path d="M200.0,511.6 Q198.9,506.7 194.8,503.4" stroke="#686868" stroke-width="3.3" fill="none" stroke-linecap="round"/>
<path d="M199.4,519.0 Q198.0,524.7 194.4,528.8" stroke="#4e4a4c" stroke-width="2.8" fill="none" stroke-linecap="round"/>
<ellipse cx="199.7" cy="514.9" rx="2.5" ry="3.8" fill="#141414"/>
<path d="M216.6,513.3 Q215.4,508.3 211.2,505.0" stroke="#686868" stroke-width="3.3" fill="none" stroke-linecap="round"/>
<path d="M215.9,520.8 Q214.6,526.7 210.9,530.8" stroke="#4e4a4c" stroke-width="2.8" fill="none" stroke-linecap="round"/>
<ellipse cx="216.2" cy="516.7" rx="2.5" ry="3.8" fill="#141414"/>
<path d="M233.4,515.1 Q232.2,510.0 228.0,506.6" stroke="#686868" stroke-width="3.4" fill="none" stroke-linecap="round"/>
<path d="M232.7,522.7 Q231.4,528.7 227.6,532.9" stroke="#4e4a4c" stroke-width="2.9" fill="none" stroke-linecap="round"/>
<ellipse cx="233.1" cy="518.5" rx="2.5" ry="3.9" fill="#141414"/>
<path d="M250.5,516.9 Q249.3,511.7 245.0,508.2" stroke="#686868" stroke-width="3.5" fill="none" stroke-linecap="round"/>
<path d="M249.9,524.6 Q248.5,530.7 244.7,535.0" stroke="#4e4a4c" stroke-width="2.9" fill="none" stroke-linecap="round"/>
<ellipse cx="250.2" cy="520.3" rx="2.6" ry="4.0" fill="#141414"/>
<path d="M268.0,518.7 Q266.8,513.4 262.4,509.9" stroke="#686868" stroke-width="3.5" fill="none" stroke-linecap="round"/>
<path d="M267.3,526.6 Q265.9,532.8 262.0,537.2" stroke="#4e4a4c" stroke-width="3.0" fill="none" stroke-linecap="round"/>
<ellipse cx="267.6" cy="522.2" rx="2.6" ry="4.0" fill="#141414"/>
<path d="M285.8,520.5 Q284.5,515.1 280.0,511.6" stroke="#686868" stroke-width="3.6" fill="none" stroke-linecap="round"/>
<path d="M285.0,528.6 Q283.6,534.9 279.7,539.3" stroke="#4e4a4c" stroke-width="3.0" fill="none" stroke-linecap="round"/>
<ellipse cx="285.4" cy="524.1" rx="2.7" ry="4.1" fill="#141414"/>
<path d="M303.8,522.4 Q302.6,516.9 298.0,513.3" stroke="#686868" stroke-width="3.6" fill="none" stroke-linecap="round"/>
<path d="M303.1,530.6 Q301.7,537.0 297.6,541.6" stroke="#4e4a4c" stroke-width="3.1" fill="none" stroke-linecap="round"/>
<ellipse cx="303.5" cy="526.0" rx="2.7" ry="4.2" fill="#141414"/>
<path d="M322.3,524.3 Q321.0,518.7 316.3,515.0" stroke="#686868" stroke-width="3.7" fill="none" stroke-linecap="round"/>
<path d="M321.5,532.7 Q320.0,539.2 315.9,543.8" stroke="#4e4a4c" stroke-width="3.2" fill="none" stroke-linecap="round"/>
<ellipse cx="321.9" cy="528.0" rx="2.8" ry="4.3" fill="#141414"/>
<path d="M341.0,526.3 Q339.7,520.6 334.9,516.8" stroke="#686868" stroke-width="3.8" fill="none" stroke-linecap="round"/>
<path d="M340.2,534.8 Q338.7,541.4 334.6,546.1" stroke="#4e4a4c" stroke-width="3.2" fill="none" stroke-linecap="round"/>
<ellipse cx="340.6" cy="530.0" rx="2.8" ry="4.3" fill="#141414"/>
<path d="M360.1,528.2 Q358.7,522.5 353.9,518.6" stroke="#686868" stroke-width="3.8" fill="none" stroke-linecap="round"/>
<path d="M359.3,536.9 Q357.8,543.6 353.5,548.4" stroke="#4e4a4c" stroke-width="3.3" fill="none" stroke-linecap="round"/>
<ellipse cx="359.7" cy="532.1" rx="2.9" ry="4.4" fill="#141414"/>
<path d="M379.5,530.3 Q378.1,524.4 373.2,520.5" stroke="#686868" stroke-width="3.9" fill="none" stroke-linecap="round"/>
<path d="M378.7,539.1 Q377.1,545.9 372.8,550.8" stroke="#4e4a4c" stroke-width="3.3" fill="none" stroke-linecap="round"/>
<ellipse cx="379.1" cy="534.2" rx="2.9" ry="4.5" fill="#141414"/>
<path d="M399.2,532.3 Q397.8,526.3 392.9,522.3" stroke="#686868" stroke-width="4.0" fill="none" stroke-linecap="round"/>
<path d="M398.4,541.3 Q396.9,548.3 392.5,553.2" stroke="#4e4a4c" stroke-width="3.4" fill="none" stroke-linecap="round"/>
<ellipse cx="398.8" cy="536.3" rx="3.0" ry="4.6" fill="#141414"/>
<path d="M419.4,534.4 Q417.9,528.3 412.9,524.3" stroke="#686868" stroke-width="4.1" fill="none" stroke-linecap="round"/>
<path d="M418.5,543.5 Q416.9,550.6 412.5,555.7" stroke="#4e4a4c" stroke-width="3.4" fill="none" stroke-linecap="round"/>
<ellipse cx="418.9" cy="538.5" rx="3.0" ry="4.7" fill="#141414"/>
<path d="M439.8,536.5 Q438.4,530.3 433.2,526.2" stroke="#686868" stroke-width="4.1" fill="none" stroke-linecap="round"/>
<path d="M439.0,545.8 Q437.3,553.0 432.8,558.2" stroke="#4e4a4c" stroke-width="3.5" fill="none" stroke-linecap="round"/>
<ellipse cx="439.4" cy="540.7" rx="3.1" ry="4.7" fill="#141414"/>
<path d="M460.6,538.7 Q459.2,532.4 453.9,528.2" stroke="#686868" stroke-width="4.2" fill="none" stroke-linecap="round"/>
<path d="M459.8,548.1 Q458.1,555.5 453.5,560.7" stroke="#4e4a4c" stroke-width="3.6" fill="none" stroke-linecap="round"/>
<ellipse cx="460.2" cy="542.9" rx="3.2" ry="4.8" fill="#141414"/>
<path d="M481.8,540.9 Q480.3,534.5 475.0,530.2" stroke="#686868" stroke-width="4.3" fill="none" stroke-linecap="round"/>
<path d="M481.0,550.5 Q479.3,558.0 474.6,563.3" stroke="#4e4a4c" stroke-width="3.6" fill="none" stroke-linecap="round"/>
<ellipse cx="481.4" cy="545.2" rx="3.2" ry="4.9" fill="#141414"/>
<path d="M503.4,543.1 Q501.9,536.6 496.4,532.3" stroke="#686868" stroke-width="4.3" fill="none" stroke-linecap="round"/>
<path d="M502.5,552.9 Q500.8,560.5 496.0,566.0" stroke="#4e4a4c" stroke-width="3.7" fill="none" stroke-linecap="round"/>
<ellipse cx="503.0" cy="547.5" rx="3.3" ry="5.0" fill="#141414"/>
<path d="M525.3,545.4 Q523.8,538.8 518.3,534.4" stroke="#686868" stroke-width="4.4" fill="none" stroke-linecap="round"/>
<path d="M524.5,555.4 Q522.7,563.1 517.8,568.7" stroke="#4e4a4c" stroke-width="3.8" fill="none" stroke-linecap="round"/>
<ellipse cx="524.9" cy="549.8" rx="3.3" ry="5.1" fill="#141414"/>
<path d="M547.7,547.7 Q546.1,541.0 540.5,536.5" stroke="#686868" stroke-width="4.5" fill="none" stroke-linecap="round"/>
<path d="M546.8,557.9 Q545.0,565.8 540.0,571.4" stroke="#4e4a4c" stroke-width="3.8" fill="none" stroke-linecap="round"/>
<ellipse cx="547.2" cy="552.2" rx="3.4" ry="5.2" fill="#141414"/>
<path d="M570.4,550.1 Q568.8,543.2 563.1,538.7" stroke="#686868" stroke-width="4.6" fill="none" stroke-linecap="round"/>
<path d="M569.5,560.4 Q567.6,568.4 562.6,574.2" stroke="#4e4a4c" stroke-width="3.9" fill="none" stroke-linecap="round"/>
<ellipse cx="569.9" cy="554.7" rx="3.4" ry="5.3" fill="#141414"/>
<path d="M593.5,552.5 Q591.9,545.5 586.0,540.9" stroke="#686868" stroke-width="4.7" fill="none" stroke-linecap="round"/>
<path d="M592.6,563.0 Q590.7,571.1 585.6,577.0" stroke="#4e4a4c" stroke-width="4.0" fill="none" stroke-linecap="round"/>
<ellipse cx="593.0" cy="557.2" rx="3.5" ry="5.4" fill="#141414"/>
<path d="M617.0,555.0 Q615.3,547.9 609.4,543.1" stroke="#686868" stroke-width="4.7" fill="none" stroke-linecap="round"/>
<path d="M616.0,565.6 Q614.1,573.9 608.9,579.8" stroke="#4e4a4c" stroke-width="4.0" fill="none" stroke-linecap="round"/>
<ellipse cx="616.5" cy="559.7" rx="3.6" ry="5.4" fill="#141414"/>
<path d="M640.9,557.4 Q639.2,550.2 633.2,545.4" stroke="#686868" stroke-width="4.8" fill="none" stroke-linecap="round"/>
<path d="M639.9,568.3 Q638.0,576.7 632.7,582.8" stroke="#4e4a4c" stroke-width="4.1" fill="none" stroke-linecap="round"/>
<ellipse cx="640.4" cy="562.3" rx="3.6" ry="5.5" fill="#141414"/>
<path d="M665.2,560.0 Q663.5,552.6 657.4,547.7" stroke="#686868" stroke-width="4.9" fill="none" stroke-linecap="round"/>
<path d="M664.2,571.0 Q662.3,579.6 656.9,585.7" stroke="#4e4a4c" stroke-width="4.2" fill="none" stroke-linecap="round"/>
<ellipse cx="664.7" cy="564.9" rx="3.7" ry="5.6" fill="#141414"/>
<path d="M689.9,562.6 Q688.2,555.1 682.0,550.1" stroke="#686868" stroke-width="5.0" fill="none" stroke-linecap="round"/>
<path d="M688.9,573.8 Q686.9,582.5 681.5,588.7" stroke="#4e4a4c" stroke-width="4.2" fill="none" stroke-linecap="round"/>
<ellipse cx="689.4" cy="567.5" rx="3.7" ry="5.7" fill="#141414"/>
<path d="M715.1,565.2 Q713.3,557.6 707.0,552.5" stroke="#686868" stroke-width="5.1" fill="none" stroke-linecap="round"/>
<path d="M714.1,576.6 Q712.0,585.4 706.5,591.8" stroke="#4e4a4c" stroke-width="4.3" fill="none" stroke-linecap="round"/>
<ellipse cx="714.6" cy="570.2" rx="3.8" ry="5.8" fill="#141414"/>
<path d="M740.6,567.8 Q738.8,560.1 732.4,554.9" stroke="#686868" stroke-width="5.2" fill="none" stroke-linecap="round"/>
<path d="M739.6,579.4 Q737.5,588.5 731.9,594.9" stroke="#4e4a4c" stroke-width="4.4" fill="none" stroke-linecap="round"/>
<ellipse cx="740.1" cy="573.0" rx="3.9" ry="5.9" fill="#141414"/>
<path d="M734,585 L748,575 L752,600 L750,630 L746,648 L738,652 L734,640 Z" fill="#c8c8c8"/>
<circle cx="739.5" cy="625" r="4.6" fill="#111"/>
<circle cx="741" cy="606" r="3.5" fill="#777"/>
<polygon points="780.0,487.0 811.0,487.0 811.0,578.0 780.0,578.0" fill="#0e0e0e"/>
<rect x="781" y="494.6" width="29" height="3.8" rx="1.9" fill="url(#gFin)"/>
<rect x="781" y="509.8" width="29" height="3.8" rx="1.9" fill="url(#gFin)"/>
<rect x="781" y="522.1" width="29" height="3.8" rx="1.9" fill="url(#gFin)"/>
<rect x="781" y="536.5" width="29" height="3.8" rx="1.9" fill="url(#gFin)"/>
<rect x="781" y="548.8" width="29" height="3.8" rx="1.9" fill="url(#gFin)"/>
<rect x="781" y="562.1" width="29" height="3.8" rx="1.9" fill="url(#gFin)"/>
<path d="M752,450 L790,446 L797,449 L806,455 L809,470 L806,488 L786,490 L780,484 L757,481 Z" fill="#2c2c2c" stroke="#4a4a4a" stroke-width="1"/>
<path d="M760,455 L772,452 L776,478 L762,480 Z" fill="#3a3a3a"/>
<polygon points="779.8,480.6 786.0,482.0 786.0,578.0 777.7,566.0" fill="#262626"/>
<line x1="784" y1="484" x2="784" y2="576" stroke="#4a4a4a" stroke-width="1"/>
<polygon points="748.0,566.0 777.7,564.6 796.0,566.0 796.0,577.0 752.0,577.0" fill="#9a9a9a"/>
<path d="M752,577 L796,577 L798,590 L790,601 L770,603 L755,596 Z" fill="#1e1e1e" stroke="#555" stroke-width="1"/>
<ellipse cx="775" cy="588" rx="9" ry="6" fill="#2e2e2e" stroke="#666" stroke-width="0.8"/>
<path d="M806,470 C812,462 828,456 842,456 C852,456 862,462 865,470 L866,482 C868,490 868,505 866,515
 C870,522 870,535 866,545 C868,555 866,570 858,582 C850,592 838,600 826,606 C816,608 805,602 802,592
 C800,586 804,582 808,580 L809,486 C805,482 804,476 806,470 Z" fill="#3a3a3a" stroke="#5a5a5a" stroke-width="1.2"/>
<path d="M816,484 L846,484 L848,580 L818,584 Z" fill="#424242"/>
<path d="M824,491 L836,491 L836.5,575 L825,576 Z" fill="#0c0c0c"/>
<line x1="826" y1="574" x2="834" y2="572" stroke="#888" stroke-width="1.2"/>
<path d="M848,488 C856,495 858,510 856,525 C860,540 858,560 852,575" stroke="#2e2e2e" stroke-width="3" fill="none"/>
<circle cx="826" cy="597" r="2" fill="#777"/>
<path d="M812,478 L840,476" stroke="#555" stroke-width="1"/>
<path d="M864.0,465.0 C865.8,461.7 869.7,457.8 874.0,455.0 C878.3,452.2 884.0,449.5 890.0,448.0 C896.0,446.5 904.0,445.5 910.0,446.0 C916.0,446.5 921.0,447.8 926.0,451.0 C931.0,454.2 936.0,459.7 940.0,465.0 C944.0,470.3 947.3,476.3 950.0,483.0 C952.7,489.7 954.5,498.0 956.0,505.0 C957.5,512.0 958.7,518.0 959.0,525.0 C959.3,532.0 958.8,539.3 958.0,547.0 C957.2,554.7 956.0,563.7 954.0,571.0 C952.0,578.3 949.3,585.0 946.0,591.0 C942.7,597.0 938.7,602.7 934.0,607.0 C929.3,611.3 923.7,614.5 918.0,617.0 C912.3,619.5 906.3,621.3 900.0,622.0 C893.7,622.7 885.7,622.2 880.0,621.0 C874.3,619.8 869.2,617.7 866.0,615.0 C862.8,612.3 861.8,609.0 861.0,605.0 C860.2,601.0 859.8,595.3 861.0,591.0 C862.2,586.7 866.3,582.3 868.0,579.0 C869.7,575.7 870.5,584.0 871.0,571.0 C871.5,558.0 871.8,514.3 871.0,501.0 C870.2,487.7 867.3,495.3 866.0,491.0 C864.7,486.7 863.3,479.3 863.0,475.0 C862.7,470.7 862.2,468.3 864.0,465.0 Z" fill="url(#gCapH)" stroke="#666666" stroke-width="1.6"/>
<path d="M940,487 C948,500 952,520 951,540 C950,556 946,570 940,580 L937,574 C942,560 944,540 943,522 C942,506 939,495 936,490 Z" fill="#141414"/>
<path d="M872,501 L910,500 C930,502 944,518 946,537 C946,556 932,575 910,579 L872,580 Z" fill="#2c2c2c"/>
<path d="M872,501 L900,500 L900,580 L872,580 Z" fill="#242424"/>
<path d="M868,470 C880,455 905,448 925,452 C935,458 940,468 936,485 L905,496 L872,498 Z" fill="#383838" opacity="0.6"/>
<ellipse cx="894.5" cy="466" rx="6" ry="7.5" fill="#181818"/>
<path d="M891,463 C888,466 889,470 892,470" stroke="#cfcfcf" stroke-width="1.4" fill="none"/>
<ellipse cx="916.5" cy="461" rx="6" ry="7.5" fill="#181818"/>
<path d="M913,458 C910,461 911,465 914,465" stroke="#cfcfcf" stroke-width="1.4" fill="none"/>
<ellipse cx="904" cy="607" rx="5" ry="5" fill="#1a1a1a"/>
<path d="M899,603 C896,607 897,611 901,612" stroke="#cfcfcf" stroke-width="1.4" fill="none"/>
<path d="M862,592 C870,582 880,580 900,582 L930,590 C925,602 915,612 900,618 C885,620 870,616 864,608 Z" fill="#474747" opacity="0.7"/>
</g>
<g id="lines" fill="#fff" stroke="#fff" stroke-width="1.4" stroke-dasharray="5 2.2">
<line x1="119.6" y1="300.7" x2="119.6" y2="514"/>
<line x1="481.8" y1="302" x2="481.8" y2="496"/>
<line x1="840.5" y1="378.5" x2="840.5" y2="479"/>
<line x1="225.6" y1="630" x2="225.6" y2="766.4"/>
<line x1="915.8" y1="612" x2="915.8" y2="750"/>
<line x1="717.8" y1="750" x2="915.8" y2="750" stroke-width="2"/>
<line x1="714.6" y1="749" x2="714.6" y2="812.5"/>
<g stroke="none">
<circle cx="119.6" cy="516" r="5.5"/>
<circle cx="482.2" cy="498.3" r="5.5"/>
<circle cx="840.5" cy="481.3" r="5.6"/>
<circle cx="226.6" cy="626.2" r="5.5"/>
<circle cx="915.5" cy="608" r="5.5"/>
</g>
</g>
<g id="texts">
<text id="t_title" transform="translate(27,90.6) scale(0.93,1)" font-size="50.5" font-weight="bold" fill="#f39800" letter-spacing="-0.76">QUALITY MANUFACTURING PROCESS</text>
<g id="t_arrows" fill="#f39800">
<polygon points="892.6,64.4 908.9,72.2 908.9,75.6 892.6,83.4 892.6,77.8 901.6,74 892.6,70.2"/>
<polygon points="892.6,64.4 908.9,72.2 908.9,75.6 892.6,83.4 892.6,77.8 901.6,74 892.6,70.2" transform="translate(20.8,0)"/>
<polygon points="892.6,64.4 908.9,72.2 908.9,75.6 892.6,83.4 892.6,77.8 901.6,74 892.6,70.2" transform="translate(43.2,0)"/>
</g>
<text id="t_sub" x="221.8" y="121.5" font-size="24" fill="#a6a6a6" letter-spacing="-0.12">More concentrated Beam for Further Clear Reach</text>
<text id="t_led" x="340.2" y="213.5" font-size="27" fill="#ffffff" letter-spacing="-0.22">Top Automotive-Grade LED</text>
<text id="t_p1" x="291" y="242" font-size="21" fill="#888" letter-spacing="0.14">Top Automotive-GradEnhance light efficien-</text>
<text id="t_p2" x="308.5" y="265.6" font-size="21" fill="#888" letter-spacing="0.07">cy up to 98%, provide more than 50,000</text>
<text id="t_p3" x="399.7" y="289.2" font-size="21" fill="#888" letter-spacing="0.08">hours lifespane LED</text>
<text id="t_refl" x="68.2" y="291.6" font-size="26.5" fill="#ffffff">Reflector</text>
<text id="t_sil" x="768.2" y="367.5" font-size="26.5" fill="#ffffff" letter-spacing="-0.14">Silicone pad</text>
<text id="t_glass" x="114.6" y="803.7" font-size="26.5" fill="#ffffff" letter-spacing="-0.17">Transparent glass</text>
<text id="t_avi" x="514.8" y="847" font-size="27" fill="#ffffff" letter-spacing="0.4">Aviation-Grade Aluminum Body</text>
<text id="t_prem" x="458.5" y="876" font-size="21" fill="#888" letter-spacing="0.07">Premium aviation aluminum material offers excellent</text>
<text id="t_rig" x="574.2" y="899" font-size="21" fill="#888">rigidity and heat dissipation.</text>
</g>
</svg>
</body></html>
